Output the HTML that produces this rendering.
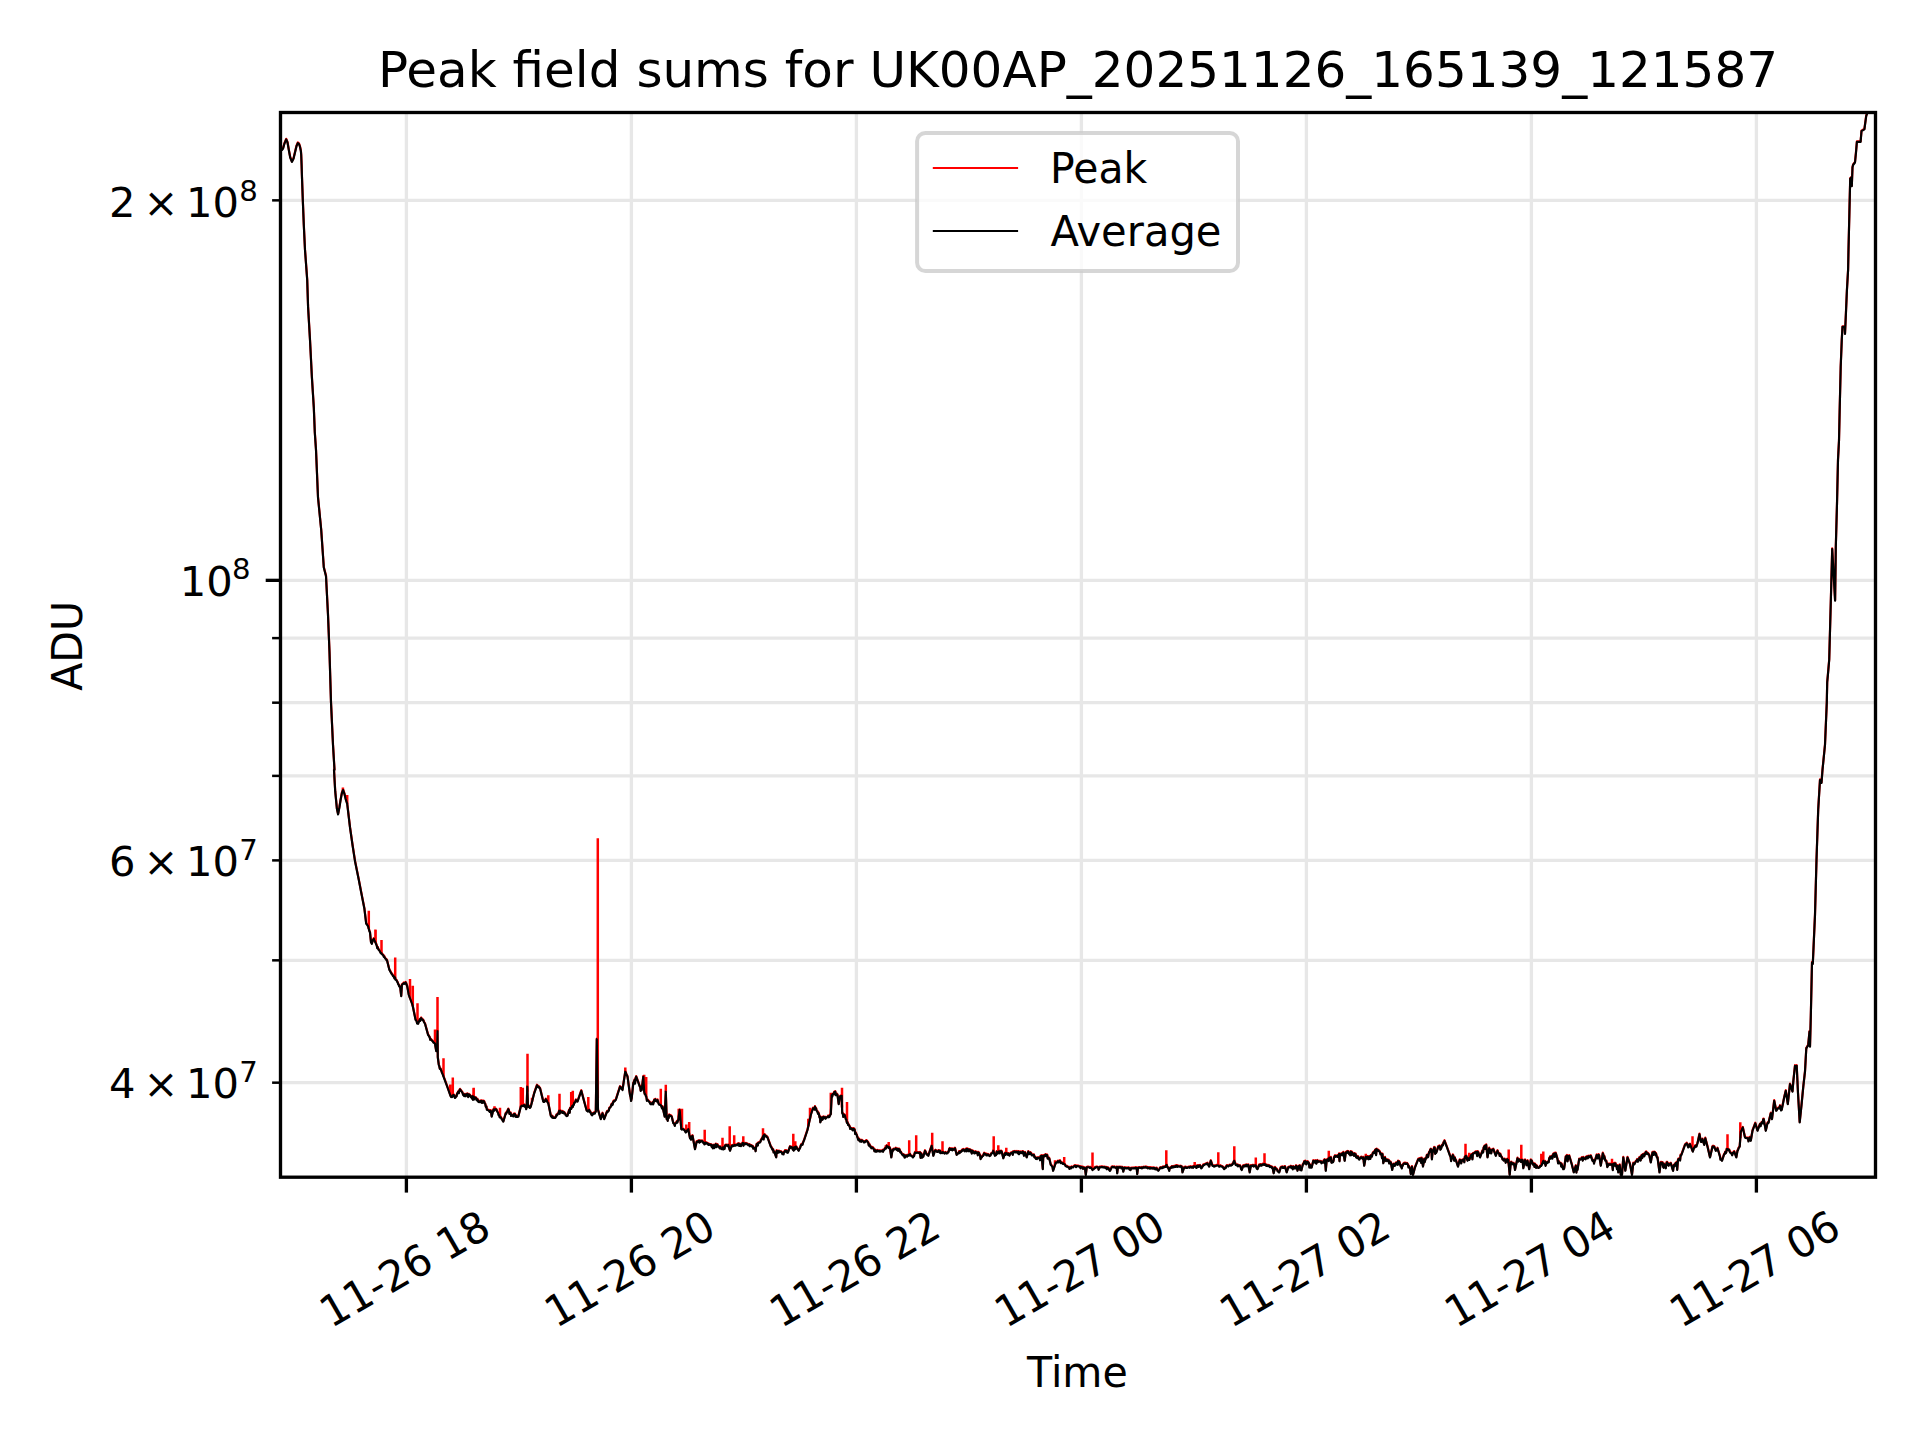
<!DOCTYPE html>
<html lang="en"><head><meta charset="utf-8"><title>Peak field sums for UK00AP_20251126_165139_121587</title>
<style>html,body{margin:0;padding:0;background:#fff}body{width:1920px;height:1440px;overflow:hidden}svg{display:block}text{font-family:"DejaVu Sans","Liberation Sans",sans-serif;fill:#000}</style>
</head><body>
<svg width="1920" height="1440" viewBox="0 0 1920 1440">
<rect width="1920" height="1440" fill="#fff"/>
<defs><clipPath id="ax"><rect x="280.5" y="112.5" width="1595.0" height="1064.7"/></clipPath></defs>
<g stroke="#e7e7e7" stroke-width="3.33" fill="none">
<path d="M406.40 112.5V1177.2"/>
<path d="M631.40 112.5V1177.2"/>
<path d="M856.40 112.5V1177.2"/>
<path d="M1081.40 112.5V1177.2"/>
<path d="M1306.40 112.5V1177.2"/>
<path d="M1531.40 112.5V1177.2"/>
<path d="M1756.40 112.5V1177.2"/>
<path d="M280.5 200.36H1875.5"/>
<path d="M280.5 580.35H1875.5"/>
<path d="M280.5 638.11H1875.5"/>
<path d="M280.5 702.68H1875.5"/>
<path d="M280.5 775.88H1875.5"/>
<path d="M280.5 860.39H1875.5"/>
<path d="M280.5 960.34H1875.5"/>
<path d="M280.5 1082.67H1875.5"/>
</g>
<g clip-path="url(#ax)" fill="none" stroke-linejoin="round" stroke-linecap="butt">
<path d="M280.6 150.6 L281.9 150 L283.1 148.5 L284.4 143.8 L286.2 139.4 L287.5 142.5 L288.8 150 L290.2 157.5 L291.9 161.9 L293.5 158.8 L295 152.5 L296.5 146.2 L297.8 143.1 L299 144 L300 146.9 L300.9 151.2 L301.2 155 L301.6 165 L301.9 175 L302.8 200 L303.8 225 L305 250 L307.2 280 L308.1 307.5 L310 340 L311.9 377.5 L313.8 407.5 L314.8 432.5 L316 450 L318 497.5 L321.2 530 L323.8 567.5 L326 576.2 L328 615 L329.5 652.5 L331 702.5 L333 745 L334.5 770 L334 770 L335.2 791.2 L336.9 808.8 L338.1 814.4 L339.4 807.5 L340.6 800 L341.9 793.1 L343.1 790 L344.4 793.8 L345.6 798.8 L347.2 803.8 L350 827.5 L352.5 845 L355 861.2 L358.8 880 L361.2 892.5 L364.4 908.8 L366.2 923.8 L366.9 924.4 L367.5 925.5 L368.1 926.2 L369.4 931.2 L370 932.5 L371 942.5 L371.9 943.8 L372.8 940 L373.2 940.6 L373.8 938.8 L374.2 940.5 L374.8 941 L375.2 941.9 L375.8 943.3 L376.2 944.4 L376.8 945.8 L377.2 948.1 L377.8 947.5 L378.2 948.9 L378.8 950 L379.3 950.5 L379.8 951.3 L380.3 952.2 L380.8 953.2 L381.3 953.1 L381.8 954.1 L382.3 954.6 L382.8 954.9 L383.3 955.3 L383.8 956.8 L384.3 956.6 L384.8 957.8 L385.4 958.8 L385.9 959 L386.4 960.1 L386.9 960 L389.4 970 L389.9 970.8 L390.4 971.8 L390.9 972.6 L391.5 973.7 L392 974.2 L392.5 975 L393 976.2 L393.5 975.9 L394 977.5 L394.5 978.4 L395 977.5 L395.5 979.8 L396.1 980 L396.6 980.6 L397.1 981.6 L397.7 982.6 L398.2 984.3 L398.8 985 L399.2 986.4 L399.8 986.6 L400.2 987.5 L401.2 996.2 L401.9 985 L402.5 984.4 L403.1 983.9 L403.8 983.1 L404.4 983.9 L405 983.6 L405.6 982.5 L406.2 983.5 L406.7 985.2 L407.2 986.2 L408.8 995 L412.5 1005 L415.6 1020 L416.1 1020.4 L416.6 1021.2 L417.1 1023.5 L417.6 1023.4 L418.1 1023.8 L419.8 1019.4 L420.2 1021 L420.8 1018.9 L421.2 1018.1 L421.9 1019.3 L422.5 1019.9 L423.1 1020 L423.8 1021.7 L424.4 1022.8 L425 1023.8 L428.1 1035 L428.6 1035.6 L429.2 1036.8 L429.7 1037.4 L430.2 1039.8 L430.7 1039.2 L431.2 1040 L431.8 1040.5 L432.3 1041 L432.9 1041.6 L433.4 1042.6 L433.9 1042.5 L434.5 1043.2 L435 1043.8 L436.2 1051.2 L437.2 1047.5 L437.5 1031.2 L437.8 1057.5 L438.8 1065 L439.3 1066.4 L439.8 1068.9 L440.4 1068.7 L440.9 1069.8 L441.4 1071 L442 1072.9 L442.5 1073.8 L447.5 1087.5 L450.6 1096.2 L451.1 1097 L451.7 1096.4 L452.2 1097 L452.7 1095.3 L453.2 1095.4 L453.8 1095 L454.4 1096.7 L455 1098 L455.6 1097.5 L456.1 1096 L456.6 1096.3 L457.1 1093.7 L457.6 1093.4 L458.1 1091.9 L458.8 1093.3 L459.4 1090.6 L460 1089.4 L460.6 1090.2 L461.2 1091.1 L461.9 1091.9 L462.5 1092.8 L463.1 1095.1 L463.8 1095 L464.2 1096.2 L464.8 1094.4 L465.2 1095.6 L465.8 1096.3 L466.2 1094.4 L466.8 1094.6 L467.2 1093.9 L467.8 1094.9 L468.2 1097.1 L468.8 1094.4 L469.3 1096 L469.8 1095 L470.4 1096.2 L470.9 1097.2 L471.4 1096.8 L472 1098.6 L472.5 1096.2 L473 1099.8 L473.5 1096.5 L474 1099.6 L474.5 1097.4 L475 1097.6 L475.5 1098.3 L476 1098 L476.5 1099.9 L477 1100.4 L477.5 1099.4 L478 1101.3 L478.5 1102 L479 1101.4 L479.5 1102 L480 1101.3 L480.5 1102.2 L481 1100.9 L481.6 1101 L482.1 1103 L482.6 1101.3 L483.1 1102.6 L483.6 1101.2 L484.2 1101.7 L484.7 1103.4 L485.3 1104.2 L485.8 1106.9 L486.4 1106.7 L486.9 1109.7 L487.5 1110 L488.1 1110.2 L488.6 1110.2 L489.2 1111.2 L489.7 1111.9 L490.3 1110.8 L490.8 1110.8 L491.7 1116.7 L493.3 1110 L493.8 1109.3 L494.3 1110.7 L494.8 1109.3 L495.3 1109.3 L495.8 1109.2 L496.4 1109.6 L496.9 1111 L497.5 1112.1 L498.1 1112.9 L498.6 1115.1 L499.2 1115 L499.7 1117.4 L500.2 1117.3 L500.7 1117.3 L501.2 1118.1 L501.8 1119.3 L502.3 1119.9 L502.8 1121 L503.3 1121.7 L505.8 1113.3 L506.3 1113.6 L506.8 1112.4 L507.3 1111.4 L507.8 1110.5 L508.3 1109.2 L508.9 1110.4 L509.4 1113.9 L510 1113.7 L510.6 1113 L511.1 1116 L511.7 1115 L512.2 1115.6 L512.8 1115.9 L513.3 1116.4 L513.9 1114.2 L514.4 1114 L515 1114.2 L515.6 1116.8 L516.1 1115.8 L516.7 1117 L517.2 1116.5 L517.8 1116.8 L518.3 1116.7 L520.8 1106.7 L521.4 1106.1 L521.9 1105.6 L522.5 1105.9 L523.1 1106.2 L523.6 1105.2 L524.2 1105 L524.7 1105.5 L525.2 1107.1 L525.7 1106.8 L526.2 1109.2 L526.7 1106.7 L527.3 1086.7 L528 1106.7 L528.6 1106.9 L529.1 1106.3 L529.7 1108 L530.3 1107.6 L530.8 1106.7 L534.2 1093.3 L537 1085.3 L537.5 1085.9 L538 1086.9 L538.5 1087.4 L539 1086.9 L539.5 1088.1 L540 1088.3 L543.3 1101.7 L543.8 1102 L544.3 1102 L544.8 1100.5 L545.3 1101.2 L545.8 1099.2 L546.3 1100.7 L546.8 1100.4 L547.3 1102 L547.8 1102.7 L548.3 1103.3 L550.8 1115.8 L551.4 1116.7 L551.9 1117.4 L552.4 1116.3 L552.9 1118 L553.4 1117.7 L554 1117.7 L554.5 1118 L555 1118 L555.5 1117.7 L556 1116.3 L556.6 1114.9 L557.1 1115.5 L557.6 1114.1 L558.1 1113.8 L558.6 1112.9 L559.2 1110.8 L559.7 1113.8 L560.2 1110.8 L560.7 1111.1 L561.2 1112.4 L561.7 1112.6 L562.2 1112.8 L562.7 1111.6 L563.2 1112.4 L563.7 1113.3 L564.2 1112.5 L564.7 1113.2 L565.3 1113.9 L565.8 1115.5 L566.4 1115.7 L566.9 1116.1 L567.5 1115.8 L569.2 1110 L569.7 1112.8 L570.2 1108.2 L570.7 1109.1 L571.2 1108.9 L571.8 1107.1 L572.3 1105.9 L572.8 1107.1 L573.3 1105 L573.8 1104.9 L574.3 1102.6 L574.8 1102.3 L575.3 1102.4 L575.8 1100 L576.4 1100.6 L576.9 1100.9 L577.5 1101.7 L581.3 1090.8 L584.2 1101.7 L586.7 1110.8 L587.2 1110.8 L587.7 1111.5 L588.2 1110.7 L588.7 1111.3 L589.2 1110 L589.7 1111.9 L590.2 1111.6 L590.7 1113.1 L591.2 1114 L591.7 1115 L592.2 1115.4 L592.7 1113.7 L593.2 1114.1 L593.8 1113.1 L594.3 1112.8 L594.8 1113.6 L595.3 1112.2 L595.8 1111.7 L596.8 1039.2 L598 1110 L600.8 1119.2 L602.5 1113.3 L604.2 1119.2 L606.7 1112.5 L607.2 1111.4 L607.7 1112 L608.2 1111 L608.8 1110.9 L609.3 1108.3 L609.8 1107.8 L610.3 1107.5 L610.8 1106.7 L611.3 1105.1 L611.8 1104.1 L612.3 1105.2 L612.8 1104.1 L613.3 1101.7 L613.8 1101.1 L614.3 1101.6 L614.8 1101.1 L615.3 1100.4 L615.8 1100 L620 1086.7 L620.5 1087.3 L621 1087.6 L621.5 1089 L622 1089.1 L622.5 1090 L625.3 1071.7 L625.9 1072.8 L626.4 1074.7 L627 1075.5 L627.5 1076.7 L630 1095 L630.6 1097.2 L631.1 1101 L631.7 1098.3 L633.3 1083.3 L633.9 1082 L634.5 1080.1 L635 1083.6 L635.6 1078.4 L636.2 1076.7 L639.2 1085 L639.7 1086.5 L640.2 1086.7 L640.7 1091 L641.2 1088.9 L641.7 1090 L643.3 1076.7 L644.2 1091.7 L644.7 1094 L645.3 1094.3 L645.8 1096 L646.4 1097.2 L646.9 1100.8 L647.5 1100 L648 1100.5 L648.5 1101.1 L649.1 1101.8 L649.6 1102 L650.1 1103.7 L650.6 1103.9 L651.1 1104.3 L651.7 1104.2 L652.2 1102.9 L652.7 1102.5 L653.2 1104.4 L653.7 1102 L654.2 1100 L654.7 1101.3 L655.3 1099.4 L655.8 1100.7 L656.4 1101.1 L656.9 1101.6 L657.5 1100 L658 1101.6 L658.5 1103.6 L659 1104.6 L659.5 1104.5 L660 1105 L660.5 1104.8 L661 1105.7 L661.5 1106.7 L662 1108.6 L662.5 1106.7 L664.7 1116.7 L665.8 1091.7 L666.7 1119.2 L667.2 1117.9 L667.7 1120.9 L668.2 1116.4 L668.7 1118.2 L669.2 1115 L669.7 1115.4 L670.2 1115.8 L670.7 1115.8 L671.2 1116.1 L671.7 1116.7 L673.3 1123.3 L673.8 1123.5 L674.3 1124.3 L674.8 1125.9 L675.3 1123.6 L675.8 1123.3 L676.3 1123 L676.8 1121.6 L677.3 1122.7 L677.8 1121.2 L678.3 1120 L679.7 1110 L681.3 1129.2 L681.9 1129.6 L682.5 1129.4 L683 1129.1 L683.6 1129.6 L684.2 1130 L684.7 1130.6 L685.3 1131.9 L685.8 1132.5 L686.3 1132.1 L686.8 1130.6 L687.3 1130.3 L687.8 1130.1 L688.3 1129.2 L690 1138.3 L690.5 1138.1 L691 1139.8 L691.5 1136.5 L692 1137.1 L692.5 1135.8 L695 1149.2 L696.7 1141.7 L697.2 1141.7 L697.8 1141.8 L698.3 1140.9 L698.9 1140.9 L699.4 1142.6 L700 1140.8 L700.5 1142 L701 1141.6 L701.5 1141.2 L702 1140.9 L702.5 1141.4 L703 1142.1 L703.5 1143.2 L704 1143.5 L704.5 1144.4 L705 1142.5 L705.5 1142.5 L706 1143.6 L706.5 1143 L707 1143.1 L707.5 1143.9 L708 1143.8 L708.5 1145 L709 1144.2 L709.5 1144.5 L710 1145 L710.6 1144.6 L711.1 1144.8 L711.7 1147 L712.2 1145.4 L712.8 1148.3 L713.3 1145.8 L713.8 1145.2 L714.3 1148.1 L714.8 1145.8 L715.3 1145.6 L715.8 1144.2 L716.4 1147.2 L716.9 1144.9 L717.5 1144.8 L718.1 1146.6 L718.6 1146.6 L719.2 1146.7 L719.7 1148.5 L720.3 1146.9 L720.8 1148.7 L721.4 1148.7 L721.9 1149.2 L722.5 1148.3 L723 1147.3 L723.5 1149.5 L724 1147.9 L724.5 1149 L725 1145.8 L725.6 1145.2 L726.1 1145.5 L726.7 1145.2 L727.2 1146.1 L727.8 1146 L728.3 1145 L730 1150.8 L731.7 1145.8 L732.2 1146.5 L732.7 1145.4 L733.2 1145.6 L733.7 1146.1 L734.2 1145.3 L734.7 1144.8 L735.2 1145.6 L735.7 1145.6 L736.2 1145 L736.7 1145 L737.2 1145.2 L737.7 1144.1 L738.3 1144.5 L738.8 1143.7 L739.3 1146 L739.8 1145.8 L740.4 1144.4 L740.9 1146.2 L741.4 1144.6 L742 1144.5 L742.5 1143 L743 1143.1 L743.5 1145.8 L744.1 1143.5 L744.6 1143.6 L745.1 1143.4 L745.6 1144.2 L746.1 1143.5 L746.7 1144.2 L747.2 1143.9 L747.7 1144.4 L748.2 1145.1 L748.7 1144.7 L749.2 1144.6 L749.7 1146.3 L750.2 1145.3 L750.7 1145.4 L751.2 1146.3 L751.7 1145.8 L752.2 1146.7 L752.8 1146.4 L753.3 1148.7 L753.9 1148.2 L754.4 1148 L755 1148.3 L755.6 1151.3 L756.1 1147.1 L756.7 1144.2 L757.2 1144.4 L757.8 1145.6 L758.3 1142.9 L758.9 1142.9 L759.4 1142.5 L760 1142.5 L760.5 1141.7 L761 1140 L761.6 1139.5 L762.1 1138.3 L762.6 1137.9 L763.1 1136.2 L763.6 1139.5 L764.2 1134.7 L764.7 1134.8 L765.3 1136.5 L765.8 1136.5 L766.4 1136.2 L766.9 1137.3 L767.5 1137.5 L770.8 1146.7 L771.4 1147.3 L771.9 1148.5 L772.5 1149.9 L773.1 1149.6 L773.6 1152.5 L774.2 1151.7 L776.2 1157.5 L776.7 1150.8 L777.2 1153.1 L777.7 1152.9 L778.2 1151.1 L778.8 1152.4 L779.3 1151.3 L779.8 1152.1 L780.3 1151.7 L780.8 1151.7 L781.4 1152.2 L781.9 1152.9 L782.5 1154.2 L783 1153.1 L783.5 1154.4 L784 1152.2 L784.5 1152.2 L785 1150.8 L785.6 1150.9 L786.1 1150.8 L786.7 1152.5 L787.2 1151.3 L787.8 1152.8 L788.3 1151.7 L790 1146.7 L790.6 1147.9 L791.1 1147.3 L791.7 1147.1 L792.2 1147.5 L792.8 1149.8 L793.3 1148.3 L793.8 1150.7 L794.3 1147.2 L794.8 1147.5 L795.3 1149.3 L795.8 1146.7 L796.4 1146.9 L797 1148.5 L797.5 1148.9 L798.1 1150.1 L798.7 1150.8 L799.2 1149.3 L799.8 1148.7 L800.3 1147.3 L800.8 1145.8 L801.4 1144.5 L801.9 1144.5 L802.5 1144.8 L803.1 1142.6 L803.6 1141.4 L804.2 1140 L807.5 1130 L810.8 1115 L813 1108.3 L813.5 1108.5 L814 1108.1 L814.5 1109.7 L815 1106.7 L815.5 1109.6 L816 1108.4 L816.5 1110.1 L817 1111.5 L817.5 1111.7 L818 1113.8 L818.5 1113.1 L819 1114.5 L819.5 1117.5 L820 1116.7 L820.3 1122.5 L822 1117.5 L822.5 1119.8 L823 1117.4 L823.6 1117 L824.1 1118.3 L824.6 1117.6 L825.1 1117.2 L825.6 1118.8 L826.1 1117.9 L826.7 1117.5 L827.2 1117.3 L827.7 1116.8 L828.2 1116.1 L828.8 1117.3 L829.3 1117.1 L829.8 1115.9 L830.3 1115 L830.8 1114.2 L831.7 1095 L832.2 1096.9 L832.7 1094.1 L833.2 1094.1 L833.8 1094 L834.3 1092.1 L834.8 1094.3 L835.3 1091.7 L835.9 1095.2 L836.4 1095.1 L837 1094.3 L837.5 1095 L838.7 1104.2 L840 1096.7 L840.6 1096.1 L841.1 1097.4 L841.7 1095.8 L842.2 1113.3 L842.7 1113.3 L843.3 1117 L843.9 1115.3 L844.4 1114.8 L845 1115.8 L845.8 1119.2 L846.4 1119.8 L846.9 1122.9 L847.5 1122.4 L848.1 1124.9 L848.6 1124.7 L849.2 1125.8 L849.7 1126.8 L850.2 1128.9 L850.7 1128.6 L851.2 1128.4 L851.7 1129.2 L852.2 1128.8 L852.7 1130.4 L853.2 1128.7 L853.7 1128.7 L854.2 1129.2 L854.7 1129.9 L855.2 1134 L855.7 1132.9 L856.2 1134 L856.7 1135 L857.2 1136.8 L857.7 1137.9 L858.2 1139.9 L858.7 1138.9 L859.2 1140 L859.7 1141.5 L860.2 1140.6 L860.7 1140.3 L861.2 1141.8 L861.7 1140.4 L862.2 1140.7 L862.7 1141.1 L863.2 1141.3 L863.7 1142.3 L864.2 1141.7 L864.7 1142.4 L865.2 1141.8 L865.7 1141.2 L866.2 1140.8 L866.7 1140.8 L867.2 1141.3 L867.7 1142.3 L868.2 1142.6 L868.8 1145.6 L869.3 1144.4 L869.8 1145.5 L870.3 1147 L870.8 1146.7 L871.4 1148.3 L871.9 1148.2 L872.4 1147.6 L872.9 1147.9 L873.4 1148.4 L874 1149.8 L874.5 1151.5 L875 1150 L875.5 1151 L876 1151.8 L876.5 1150.8 L877 1151 L877.5 1150.5 L878 1151.4 L878.5 1151.3 L879 1150.9 L879.5 1150.9 L880 1151.7 L880.5 1151.1 L881 1151.5 L881.6 1151 L882.1 1151.1 L882.6 1150.5 L883.1 1151.8 L883.6 1150 L884.2 1150 L884.7 1149 L885.2 1148.2 L885.7 1148.7 L886.2 1148.2 L886.7 1145.8 L887.2 1147.3 L887.8 1147 L888.3 1146.6 L888.9 1148.2 L889.4 1147.3 L890 1148.3 L891.3 1157.5 L892.5 1150 L893.1 1150.7 L893.6 1149.2 L894.2 1149.3 L894.7 1149.3 L895.3 1149.1 L895.8 1148.3 L896.4 1149.5 L896.9 1150.1 L897.5 1149 L898.1 1150.9 L898.6 1149.1 L899.2 1149.2 L899.7 1150.2 L900.3 1152.4 L900.8 1152 L901.4 1153.3 L901.9 1154.1 L902.5 1155 L903 1155.5 L903.5 1154.7 L904.1 1155.3 L904.6 1157.6 L905.1 1157.4 L905.6 1155.8 L906.1 1155.5 L906.7 1155.8 L907.2 1156.6 L907.8 1155.9 L908.3 1154.9 L908.9 1155.6 L909.4 1155 L910 1154.2 L910.5 1155.5 L911 1155.8 L911.5 1156 L912 1156.6 L912.5 1156.8 L913 1157.5 L913.5 1156 L914 1156.4 L914.5 1154.1 L915 1152.5 L915.5 1153 L916 1153 L916.5 1152.7 L917 1152.6 L917.5 1152.6 L918 1152.9 L918.5 1152.8 L919 1152.7 L919.5 1153.6 L920 1152.5 L920.6 1157.9 L921.1 1153.5 L921.7 1154.6 L922.2 1157.7 L922.8 1156.8 L923.3 1156.7 L925 1150.8 L925.6 1151.8 L926.1 1153.5 L926.7 1154.6 L927.2 1154.4 L927.8 1154.7 L928.3 1155.8 L931.7 1145.8 L933.3 1155.8 L935 1150.8 L935.5 1150.3 L936 1150.9 L936.6 1151.2 L937.1 1152 L937.6 1152 L938.1 1151.2 L938.6 1150.6 L939.2 1150.8 L939.7 1152.6 L940.2 1151.1 L940.7 1153.2 L941.2 1152.6 L941.8 1152.9 L942.3 1153.1 L942.8 1152 L943.3 1152.5 L943.9 1153.1 L944.4 1153.6 L944.9 1153.3 L945.4 1152.5 L945.9 1153 L946.5 1153.6 L947 1153.4 L947.5 1153.3 L948.1 1152.1 L948.6 1152 L949.2 1149.2 L949.7 1148.5 L950.2 1148.9 L950.8 1149.8 L951.3 1148.9 L951.8 1149.2 L952.3 1150.4 L952.9 1148.9 L953.4 1149.5 L953.9 1149.8 L954.5 1149.6 L955 1148.3 L956.7 1155 L957.2 1154.3 L957.7 1153.7 L958.2 1153.2 L958.7 1153.4 L959.2 1151.7 L959.7 1153.1 L960.2 1151.9 L960.7 1151.4 L961.2 1151.8 L961.8 1151.1 L962.3 1150 L962.8 1150.7 L963.3 1149.5 L963.8 1150.1 L964.3 1150 L964.8 1151.4 L965.3 1150.1 L965.8 1150.4 L966.3 1149 L966.8 1151.4 L967.3 1149 L967.8 1150.2 L968.3 1149.5 L968.8 1151.3 L969.3 1149.8 L969.8 1149.7 L970.3 1151.5 L970.8 1150.3 L971.3 1152 L971.8 1153.6 L972.3 1150.9 L972.8 1151.1 L973.3 1151.7 L973.8 1152.5 L974.3 1153.4 L974.8 1153.5 L975.3 1151.8 L975.8 1153 L976.3 1152.4 L976.8 1152.3 L977.3 1152.9 L977.8 1155.4 L978.3 1152.5 L978.9 1152.9 L979.4 1154.1 L980 1155.4 L980.6 1159.1 L981.1 1157.8 L981.7 1157.5 L982.2 1156.5 L982.7 1156 L983.2 1156 L983.7 1154.4 L984.2 1153.3 L984.7 1154.5 L985.2 1154.2 L985.8 1154 L986.3 1155.3 L986.8 1154.6 L987.3 1155.4 L987.9 1154.5 L988.4 1154.9 L988.9 1155.5 L989.5 1156.1 L990 1155.8 L990.6 1155.3 L991.1 1154 L991.7 1153.3 L992.2 1153.2 L992.8 1153.1 L993.3 1150.8 L995 1155.8 L995.6 1154.4 L996.1 1155.1 L996.7 1151.7 L997.2 1153.7 L997.7 1153.6 L998.2 1152.8 L998.7 1151.6 L999.2 1151.4 L999.7 1153.4 L1000.2 1151.3 L1000.7 1151.6 L1001.2 1151.2 L1001.7 1151.7 L1003.3 1158.3 L1005 1153.3 L1005.5 1154.9 L1006 1153.1 L1006.5 1153.2 L1007 1153.5 L1007.5 1154.5 L1008 1154.9 L1008.5 1153.7 L1009 1154.8 L1009.5 1155.6 L1010 1154.2 L1010.6 1153.6 L1011.1 1153 L1011.7 1152.8 L1012.2 1153.2 L1012.8 1154.9 L1013.3 1151.7 L1013.8 1152.4 L1014.4 1151.8 L1014.9 1151.5 L1015.4 1152.4 L1015.9 1152.3 L1016.4 1151.9 L1016.9 1151.6 L1017.4 1152.9 L1017.9 1153.3 L1018.5 1151.7 L1019 1154.2 L1019.5 1153.6 L1020 1152 L1020.5 1152 L1021 1152.8 L1021.5 1152.3 L1022 1153.2 L1022.5 1151.7 L1023 1151.8 L1023.5 1153.8 L1024 1155.8 L1024.5 1152.9 L1025 1152.5 L1026.7 1157.5 L1028.3 1151.7 L1028.8 1153.8 L1029.3 1153.1 L1029.8 1154 L1030.3 1152.7 L1030.8 1153.2 L1031.3 1153.7 L1031.8 1155.5 L1032.3 1155.3 L1032.8 1155.3 L1033.3 1155 L1033.9 1154.9 L1034.4 1157.4 L1034.9 1157.7 L1035.4 1157.3 L1035.9 1158.9 L1036.5 1158.2 L1037 1159 L1037.5 1158.3 L1038 1157.7 L1038.5 1158 L1039.1 1158.6 L1039.6 1157.8 L1040.1 1160.3 L1040.6 1156.3 L1041.1 1156 L1041.7 1155.8 L1042.8 1169.2 L1043.3 1155.8 L1043.9 1156.1 L1044.4 1156.4 L1045 1155.2 L1045.6 1154.7 L1046.1 1156.2 L1046.7 1155 L1047.2 1155.2 L1047.7 1158.6 L1048.2 1157.8 L1048.7 1158.7 L1049.2 1158.3 L1050.8 1165 L1051.4 1165.5 L1052 1166.4 L1052.5 1167.1 L1053.1 1170.8 L1053.7 1169.2 L1055.8 1162.5 L1056.4 1162.5 L1056.9 1162.6 L1057.4 1162 L1057.9 1161.2 L1058.4 1162.5 L1059 1161.3 L1059.5 1161.6 L1060 1160.8 L1060.6 1163.1 L1061.1 1162.3 L1061.7 1162.7 L1062.2 1163.4 L1062.8 1163.8 L1063.3 1163.3 L1063.9 1163.9 L1064.4 1164.4 L1065 1164.7 L1065.6 1166.2 L1066.1 1166.2 L1066.7 1166.7 L1067.2 1166.5 L1067.8 1167 L1068.3 1167.3 L1068.9 1167.5 L1069.4 1169 L1070 1167.5 L1070.5 1167.8 L1071 1168.4 L1071.5 1167 L1072 1167.5 L1072.5 1167.4 L1073 1167.5 L1073.5 1166.9 L1074 1166.5 L1074.5 1165.9 L1075 1165.8 L1075.5 1165.9 L1076 1167.2 L1076.5 1166.1 L1077 1166 L1077.5 1166.3 L1078 1166.2 L1078.5 1166.3 L1079 1166.6 L1079.5 1166.6 L1080 1166.7 L1080.5 1168.3 L1081 1166.9 L1081.5 1167.3 L1082 1167 L1082.5 1167.7 L1083 1168.9 L1083.5 1167.5 L1084 1167.9 L1084.5 1168 L1085 1168.3 L1085.8 1175 L1086.7 1167.5 L1087.2 1167.3 L1087.7 1167.2 L1088.2 1167.2 L1088.8 1167.2 L1089.3 1167.5 L1089.8 1167.9 L1090.3 1167.5 L1090.8 1167.5 L1091.4 1168.2 L1091.9 1169 L1092.5 1170 L1093 1169.6 L1093.5 1169.3 L1094 1168.7 L1094.5 1168.5 L1095 1167.5 L1095.5 1167.9 L1096 1167.2 L1096.5 1167.4 L1097.1 1167.1 L1097.6 1167.3 L1098.1 1167.8 L1098.6 1169.8 L1099.1 1168.4 L1099.6 1167.2 L1100.1 1167.3 L1100.6 1167.5 L1101.2 1166.9 L1101.7 1167.2 L1102.2 1167 L1102.7 1167.3 L1103.2 1167.1 L1103.7 1167.5 L1104.2 1167.6 L1104.7 1167.2 L1105.3 1167.5 L1105.8 1168.2 L1106.3 1167.5 L1106.8 1169.3 L1107.3 1167.8 L1107.8 1168 L1108.3 1168 L1109 1169.6 L1109.7 1170.8 L1110.2 1170.8 L1110.7 1169.1 L1111.2 1168.8 L1111.7 1167.2 L1112.2 1167 L1112.7 1166.9 L1113.2 1167.1 L1113.7 1167.4 L1114.2 1166.9 L1114.7 1167.5 L1115.2 1167.6 L1115.7 1167.9 L1116.2 1167.4 L1116.7 1167.2 L1117.2 1173.3 L1118 1167.2 L1118.5 1167.5 L1119 1167.2 L1119.5 1167.7 L1120 1167.1 L1120.5 1167.3 L1121 1167.5 L1121.5 1168.4 L1122 1167.3 L1122.5 1167.5 L1123.3 1171.7 L1124.2 1168 L1124.7 1167.8 L1125.2 1167.9 L1125.8 1168.3 L1126.3 1168 L1126.8 1168.4 L1127.3 1168.5 L1127.9 1168 L1128.4 1167.9 L1128.9 1168.2 L1129.5 1169.6 L1130 1168.3 L1130.5 1170.2 L1131 1168.9 L1131.5 1168.2 L1132.1 1168.4 L1132.6 1168.3 L1133.1 1168.2 L1133.6 1168.4 L1134.1 1168 L1134.6 1168.5 L1135.1 1168.4 L1135.6 1167.8 L1136.2 1168.5 L1136.7 1168 L1137.2 1174.2 L1138 1168 L1138.5 1167.9 L1139 1167.8 L1139.5 1167.6 L1140 1168 L1140.5 1167.9 L1141 1168.1 L1141.5 1167.6 L1142 1168.3 L1142.5 1167.7 L1143 1167.6 L1143.5 1167.2 L1144 1167.8 L1144.5 1167.6 L1145 1167.2 L1145.5 1167 L1146 1167.7 L1146.5 1167.3 L1147.1 1167.4 L1147.6 1168.3 L1148.1 1167.8 L1148.6 1167.8 L1149.1 1168.4 L1149.6 1167.8 L1150.1 1168.6 L1150.6 1167.8 L1151.2 1168.3 L1151.7 1168 L1152.2 1168.6 L1152.7 1168.1 L1153.2 1168.5 L1153.7 1167.9 L1154.2 1168.6 L1154.7 1168.2 L1155.2 1169.4 L1155.7 1168.7 L1156.2 1168.4 L1156.7 1168.3 L1157.2 1169.9 L1157.8 1170.3 L1158.3 1170.8 L1158.9 1170.1 L1159.4 1169.2 L1160 1168 L1160.5 1167.7 L1161 1168.1 L1161.5 1167.8 L1162 1168.3 L1162.5 1167.4 L1163 1167 L1163.5 1167.6 L1164 1167 L1164.5 1167.1 L1165 1166.7 L1165.6 1167 L1166.1 1165.4 L1166.7 1165 L1167.2 1166.5 L1167.7 1167.5 L1168.2 1168.1 L1168.7 1169.2 L1169.2 1170.9 L1169.7 1168.6 L1170.2 1167.9 L1170.7 1167.8 L1171.2 1167.8 L1171.7 1166.7 L1172.2 1167.6 L1172.7 1166.7 L1173.2 1166.5 L1173.7 1167.3 L1174.2 1166.6 L1174.7 1166.8 L1175.2 1166.1 L1175.7 1166.9 L1176.2 1165.8 L1176.7 1165.8 L1177.2 1166.9 L1177.7 1165.9 L1178.2 1166.6 L1178.7 1166.5 L1179.2 1166.5 L1179.7 1166.5 L1180.2 1166.9 L1180.7 1166.2 L1181.2 1166.9 L1181.7 1166.7 L1182.5 1172.5 L1184.2 1167.5 L1184.7 1167.8 L1185.2 1167.3 L1185.8 1167.2 L1186.3 1168 L1186.8 1168 L1187.3 1167.9 L1187.9 1167.5 L1188.4 1167.5 L1188.9 1167.1 L1189.5 1167.8 L1190 1167.2 L1190.5 1166.8 L1191 1167.3 L1191.5 1167.6 L1192 1166.9 L1192.5 1167.2 L1193 1167.8 L1193.5 1166.5 L1194 1166.3 L1194.5 1166.7 L1195 1166.3 L1195.5 1167.2 L1196 1166.7 L1196.5 1168 L1197 1165.9 L1197.5 1166.3 L1198 1165.7 L1198.5 1167 L1199 1165.8 L1199.5 1166.3 L1200 1165.5 L1200.7 1167.4 L1201.3 1168.3 L1201.8 1168 L1202.3 1166.6 L1202.8 1166.4 L1203.3 1165 L1203.9 1165.2 L1204.4 1164.8 L1204.9 1164.6 L1205.4 1164.2 L1205.9 1164.2 L1206.5 1163.7 L1207 1164.1 L1207.5 1163.3 L1208.1 1164.7 L1208.6 1165.7 L1209.2 1166.7 L1210.8 1160.8 L1212.5 1165.8 L1213 1165.8 L1213.6 1166 L1214.1 1166.7 L1214.6 1165.9 L1215.2 1166 L1215.7 1166.2 L1216.2 1165.5 L1216.7 1165.6 L1217.3 1165.4 L1217.8 1165.6 L1218.3 1165.5 L1218.9 1166.6 L1219.4 1166.7 L1219.9 1166.1 L1220.4 1165.8 L1220.9 1166.1 L1221.5 1166.6 L1222 1166.6 L1222.5 1166.7 L1223.1 1167.6 L1223.6 1168.3 L1224.2 1169.2 L1224.7 1168.4 L1225.2 1167.7 L1225.7 1168 L1226.2 1166.7 L1226.7 1165.8 L1227.2 1165.7 L1227.7 1166 L1228.2 1166.5 L1228.7 1165.9 L1229.2 1165.7 L1229.7 1165.1 L1230.2 1165.2 L1230.7 1165.6 L1231.2 1165.6 L1231.7 1165 L1232.2 1164.9 L1232.7 1163.7 L1233.2 1163.8 L1233.7 1161.8 L1234.2 1160.8 L1235.8 1165 L1236.4 1165.2 L1236.9 1165.5 L1237.4 1165 L1237.9 1166.5 L1238.4 1165.4 L1239 1165.6 L1239.5 1165.7 L1240 1165.8 L1240.6 1167.1 L1241.1 1169.1 L1241.7 1170 L1243.3 1165.8 L1243.8 1166.1 L1244.3 1165.9 L1244.8 1166.5 L1245.3 1165.2 L1245.8 1165.8 L1246.3 1166.3 L1246.8 1164.9 L1247.3 1166.2 L1247.8 1165.6 L1248.3 1165 L1249.7 1172.5 L1250.8 1165.8 L1251.3 1166.4 L1251.8 1166.2 L1252.3 1165.4 L1252.8 1165.7 L1253.3 1165.4 L1253.8 1166.6 L1254.3 1166 L1254.8 1165.5 L1255.3 1165.3 L1255.8 1165.5 L1256.4 1167.7 L1256.9 1168.7 L1257.5 1169.2 L1258.1 1167.8 L1258.6 1166.4 L1259.2 1165 L1259.7 1166 L1260.2 1164.7 L1260.7 1164.9 L1261.2 1164.9 L1261.7 1165.6 L1262.2 1164.6 L1262.7 1164.3 L1263.2 1164.3 L1263.7 1164.9 L1264.2 1164.2 L1264.7 1164.8 L1265.2 1164.3 L1265.7 1164.8 L1266.2 1165.9 L1266.8 1165.3 L1267.3 1166 L1267.8 1165.5 L1268.3 1165.5 L1268.9 1166.3 L1269.4 1165.8 L1269.9 1167.2 L1270.4 1166.5 L1270.9 1166.8 L1271.5 1167 L1272 1168 L1272.5 1167.5 L1273.7 1173.3 L1275 1167.5 L1275.5 1168.2 L1276 1169.1 L1276.6 1169.2 L1277.1 1169.7 L1277.6 1171.3 L1278.1 1171.5 L1278.6 1172.2 L1279.2 1172.5 L1280.8 1167.5 L1281.4 1167.6 L1281.9 1167.1 L1282.4 1166.9 L1282.9 1167.9 L1283.4 1167.8 L1284 1167.9 L1284.5 1166.8 L1285 1166.7 L1286.7 1172.5 L1288.3 1167.5 L1288.8 1167.2 L1289.3 1167.4 L1289.8 1167.3 L1290.3 1166.8 L1290.8 1166.3 L1291.3 1167.9 L1291.8 1166.8 L1292.3 1167.7 L1292.8 1169.4 L1293.3 1166.7 L1293.9 1167.1 L1294.4 1167.1 L1295 1168.6 L1295.6 1168.1 L1296.1 1165.8 L1296.7 1166.7 L1297.5 1170.8 L1298.7 1166.3 L1299.2 1166.1 L1299.8 1165.7 L1300.3 1170.2 L1300.9 1169.2 L1301.4 1170.4 L1302 1168 L1302.5 1165.8 L1303.1 1164 L1303.6 1164.2 L1304.2 1161.7 L1304.7 1163 L1305.2 1161.2 L1305.7 1163 L1306.2 1164.4 L1306.8 1161.9 L1307.3 1163.5 L1307.8 1161.8 L1308.3 1162.5 L1308.9 1163.2 L1309.4 1167.6 L1310 1164.9 L1310.6 1167.6 L1311.1 1166.4 L1311.7 1167.5 L1313.3 1160.8 L1313.8 1161.2 L1314.3 1162.5 L1314.8 1162.3 L1315.3 1160.8 L1315.8 1163.4 L1316.3 1163.7 L1316.8 1161.1 L1317.3 1160.6 L1317.8 1162.2 L1318.3 1161.3 L1318.9 1161.6 L1319.4 1161.5 L1319.9 1161.5 L1320.4 1161.9 L1320.9 1161.5 L1321.5 1163.3 L1322 1162.8 L1322.5 1162.5 L1323 1162.5 L1323.5 1161.1 L1324 1162.8 L1324.5 1159.8 L1325 1160 L1325.8 1170.8 L1326.7 1160 L1327.2 1160.7 L1327.7 1159.4 L1328.2 1158.9 L1328.8 1161.1 L1329.3 1157.7 L1329.8 1158.1 L1330.3 1159.3 L1330.8 1157.5 L1331.4 1162.5 L1331.9 1162.8 L1332.5 1161.7 L1333 1162.2 L1333.5 1161.1 L1334 1157.5 L1334.5 1156.7 L1335 1155.8 L1335.5 1156.8 L1336 1156.4 L1336.5 1156.3 L1337 1155.9 L1337.5 1157 L1338 1155.5 L1338.5 1157.2 L1339 1154 L1339.5 1161.3 L1340 1154.2 L1340.6 1155 L1341.1 1154.2 L1341.7 1155.1 L1342.2 1153.5 L1342.8 1155.5 L1343.3 1152.5 L1344.7 1160.8 L1345.8 1152.5 L1346.3 1152.8 L1346.8 1152.4 L1347.3 1151.5 L1347.8 1152.8 L1348.3 1151.7 L1348.8 1153.6 L1349.3 1154.2 L1349.8 1154.4 L1350.3 1155.4 L1350.8 1151.7 L1351.4 1155.1 L1351.9 1152.3 L1352.4 1153 L1352.9 1154.8 L1353.4 1154.4 L1354 1155.9 L1354.5 1153.6 L1355 1154.2 L1355.6 1154.3 L1356.1 1157.3 L1356.7 1156.6 L1357.2 1158.1 L1357.8 1156.6 L1358.3 1157.5 L1358.9 1159.5 L1359.4 1159.6 L1360 1158.3 L1360.6 1157.9 L1361.1 1157.2 L1361.7 1157.2 L1362.2 1158.5 L1362.8 1159 L1363.3 1157.5 L1364.2 1165.8 L1365.8 1156.7 L1366.4 1156.9 L1366.9 1158.6 L1367.5 1156.7 L1368.1 1156.8 L1368.6 1159.3 L1369.2 1157.5 L1369.7 1156.7 L1370.3 1159 L1370.8 1155.6 L1371.4 1155.9 L1371.9 1156.7 L1372.5 1154.2 L1373 1152.8 L1373.5 1152.6 L1374.1 1151.8 L1374.6 1153.1 L1375.1 1150.3 L1375.6 1149.7 L1376.1 1155.1 L1376.7 1149.2 L1377.2 1150.9 L1377.8 1150 L1378.3 1150.3 L1378.9 1151.1 L1379.4 1151.4 L1380 1152.5 L1380.5 1154.4 L1381 1154.6 L1381.5 1153.9 L1382 1158.1 L1382.5 1154.2 L1383.3 1163.3 L1385 1157.5 L1385.5 1160 L1386 1161.2 L1386.5 1159.9 L1387 1159.9 L1387.5 1160 L1388.1 1161.3 L1388.6 1160.3 L1389.2 1163.5 L1389.7 1161.6 L1390.3 1163.8 L1390.8 1162.5 L1392.2 1170 L1393.3 1164.2 L1393.9 1164.1 L1394.4 1165.9 L1394.9 1165.8 L1395.5 1164.1 L1396 1163 L1396.5 1162.9 L1397 1164.6 L1397.6 1164.9 L1398.1 1161.2 L1398.6 1163.9 L1399.2 1161.7 L1400.8 1166.7 L1401.3 1165.6 L1401.8 1168.5 L1402.3 1165.4 L1402.8 1165.8 L1403.3 1164.2 L1403.9 1163.6 L1404.4 1163.3 L1404.9 1163.9 L1405.4 1163.3 L1405.9 1163.7 L1406.5 1164 L1407 1163.4 L1407.5 1164.2 L1408 1165 L1408.5 1167.5 L1409 1166.4 L1409.5 1168 L1410 1168.3 L1410.8 1174.2 L1412 1166.7 L1413 1175 L1415 1167.5 L1418.3 1159.2 L1418.9 1159.2 L1419.4 1158.8 L1420 1161.1 L1420.6 1158.5 L1421.1 1163 L1421.7 1158.3 L1423 1166.7 L1424.2 1159.2 L1424.7 1162.3 L1425.3 1160 L1425.8 1158.1 L1426.4 1158.3 L1426.9 1155.3 L1427.5 1155 L1428.1 1157.1 L1428.6 1154.3 L1429.2 1152.1 L1429.7 1152 L1430.3 1149.9 L1430.8 1149.2 L1431.4 1150 L1431.9 1159.4 L1432.5 1153.3 L1434.2 1147.5 L1434.7 1147.7 L1435.2 1153.9 L1435.7 1151.1 L1436.2 1152.9 L1436.7 1151.7 L1438.3 1146.7 L1438.9 1146.4 L1439.4 1146.1 L1439.9 1146.7 L1440.4 1149.8 L1440.9 1149 L1441.5 1147.5 L1442 1145.3 L1442.5 1145.8 L1443 1145.2 L1443.5 1142.6 L1444 1142.5 L1444.5 1140.8 L1446.7 1146.7 L1450 1155.8 L1450.6 1156.9 L1451.1 1161.1 L1451.7 1157.1 L1452.2 1158.3 L1452.8 1155 L1453.3 1155.8 L1453.8 1159.5 L1454.3 1160.8 L1454.8 1157.8 L1455.3 1160.1 L1455.8 1160 L1458 1166.7 L1459.7 1160 L1460.2 1160.5 L1460.7 1160.4 L1461.2 1163.5 L1461.8 1160.4 L1462.3 1160.7 L1462.8 1159.9 L1463.3 1160.8 L1463.8 1159.4 L1464.3 1162.3 L1464.8 1157.2 L1465.3 1156.9 L1465.8 1155.8 L1466.4 1156.3 L1466.9 1158.7 L1467.5 1160.8 L1468.1 1158.2 L1468.6 1158.5 L1469.2 1160 L1470.8 1155.8 L1471.4 1154.7 L1471.9 1154.6 L1472.4 1159.5 L1472.9 1153.7 L1473.4 1153.6 L1474 1153.1 L1474.5 1153.1 L1475 1152.5 L1475.6 1152.1 L1476.1 1151.8 L1476.7 1154 L1477.2 1156.1 L1477.8 1151.7 L1478.3 1152.5 L1480 1157.5 L1482.5 1150.8 L1483.1 1152.6 L1483.6 1148 L1484.2 1146.7 L1484.7 1146 L1485.2 1148.9 L1485.7 1146.7 L1486.2 1145 L1487.5 1157.5 L1489.2 1148.3 L1489.7 1152.8 L1490.2 1149.9 L1490.7 1151 L1491.2 1153.5 L1491.7 1150.8 L1492.2 1149.8 L1492.8 1149.7 L1493.3 1149.2 L1495.8 1155.8 L1497.5 1150.8 L1498.1 1152.7 L1498.6 1153.1 L1499.2 1153.8 L1499.7 1156 L1500.3 1154.2 L1500.8 1155.8 L1501.4 1157 L1501.9 1157.3 L1502.5 1159.5 L1503.1 1159.7 L1503.6 1160.6 L1504.2 1159.2 L1504.7 1159.3 L1505.2 1160.1 L1505.7 1162.8 L1506.2 1160.1 L1506.8 1160.7 L1507.3 1159.2 L1507.8 1161.8 L1508.3 1160 L1509.7 1175 L1510.8 1162.5 L1511.4 1162.3 L1511.9 1164.1 L1512.5 1163.2 L1513.1 1164.3 L1513.6 1163.4 L1514.2 1164.2 L1515 1170 L1517.5 1158.3 L1518 1160.6 L1518.5 1161.6 L1519 1159.5 L1519.5 1159.6 L1520 1160.8 L1520.5 1160.9 L1521 1162 L1521.5 1159.8 L1522 1161 L1522.5 1160 L1523.3 1168.3 L1525 1160 L1525.5 1162.5 L1526 1161.4 L1526.5 1165.3 L1527 1161.6 L1527.5 1160.8 L1529.2 1169.2 L1530.8 1160 L1531.3 1163.1 L1531.8 1160.8 L1532.3 1162.5 L1532.8 1164.6 L1533.3 1164.2 L1533.9 1163.8 L1534.4 1166.9 L1535 1164.2 L1535.6 1165.4 L1536.1 1167.9 L1536.7 1165.8 L1537.2 1166.9 L1537.7 1167.4 L1538.2 1168 L1538.7 1167.9 L1539.2 1167.5 L1539.7 1167.3 L1540.2 1166 L1540.7 1165.8 L1541.2 1165.9 L1541.7 1165 L1543.3 1160.8 L1543.9 1162.8 L1544.4 1163.5 L1545 1161.5 L1545.6 1165.9 L1546.1 1163.4 L1546.7 1162.5 L1547.2 1163.1 L1547.7 1162.1 L1548.2 1162 L1548.7 1162.3 L1549.2 1158.3 L1549.7 1159.1 L1550.2 1156.8 L1550.7 1157.7 L1551.2 1158.4 L1551.8 1156.3 L1552.3 1158.6 L1552.8 1156.8 L1553.3 1154.2 L1553.8 1155.3 L1554.3 1153.5 L1554.8 1156.9 L1555.3 1153.3 L1555.8 1153.3 L1557.5 1159.2 L1558.1 1163.4 L1558.6 1161.3 L1559.2 1163.3 L1559.7 1163.1 L1560.2 1163.1 L1560.7 1163.3 L1561.2 1166.5 L1561.7 1164.2 L1562.2 1167.4 L1562.7 1166.7 L1563.2 1169.2 L1563.7 1169.2 L1564.2 1168.3 L1565.8 1156.7 L1566.4 1156.3 L1566.9 1155.6 L1567.5 1161.5 L1568.1 1158.8 L1568.6 1156.2 L1569.2 1155.8 L1571.7 1164.2 L1573.8 1172.5 L1575.8 1165.8 L1576.4 1172.7 L1576.9 1168 L1577.5 1170 L1579.2 1159.2 L1579.7 1159.6 L1580.2 1159.5 L1580.7 1159.6 L1581.2 1159.1 L1581.8 1157.8 L1582.3 1158 L1582.8 1160.7 L1583.3 1157.5 L1583.9 1158.2 L1584.4 1158.2 L1585 1159 L1585.6 1159.3 L1586.1 1157.2 L1586.7 1157.5 L1587.2 1156.6 L1587.7 1158.4 L1588.2 1157.4 L1588.8 1156.2 L1589.3 1157.1 L1589.8 1157.2 L1590.3 1156.3 L1590.8 1155.8 L1592.5 1160.8 L1593 1160.4 L1593.5 1160.4 L1594 1163.7 L1594.5 1161.1 L1595 1160.8 L1596.7 1155 L1597.2 1156.2 L1597.7 1158.5 L1598.2 1157.6 L1598.7 1154.8 L1599.2 1155.8 L1600.8 1165.8 L1602.8 1153.3 L1603.3 1154.6 L1603.8 1158.6 L1604.3 1156.4 L1604.8 1158.3 L1605.3 1160.7 L1605.8 1160.8 L1606.3 1161.2 L1606.8 1163.8 L1607.3 1167.1 L1607.8 1166.3 L1608.3 1164.2 L1608.9 1164.3 L1609.4 1164.8 L1610 1164.1 L1610.6 1164.8 L1611.1 1164.2 L1611.7 1164.2 L1612.2 1164.8 L1612.8 1170.2 L1613.3 1163.8 L1613.9 1163.8 L1614.4 1165.7 L1615 1163.3 L1615.5 1163.6 L1616 1166.3 L1616.5 1166.4 L1617 1169.2 L1617.5 1165.8 L1618.3 1172.5 L1619.7 1165 L1620.8 1175 L1621.4 1174.2 L1622 1175 L1623.3 1157.5 L1625.3 1170.8 L1627.5 1157.5 L1630 1164.2 L1632 1175 L1633.3 1163.3 L1633.9 1163.9 L1634.4 1164.3 L1635 1163.1 L1635.6 1162 L1636.1 1161.2 L1636.7 1160.8 L1637.2 1159.6 L1637.8 1161.8 L1638.3 1160.7 L1638.9 1160.4 L1639.4 1157.7 L1640 1157.5 L1640.6 1160.6 L1641.1 1156.8 L1641.7 1155.4 L1642.2 1158.2 L1642.8 1154.7 L1643.3 1155 L1643.8 1154.3 L1644.3 1156.4 L1644.8 1153.7 L1645.3 1154.4 L1645.8 1152.1 L1646.3 1152 L1646.9 1153.5 L1647.5 1154.2 L1648 1153.5 L1648.6 1154.5 L1649.2 1155 L1650.8 1162.5 L1652.5 1152.5 L1653 1153.5 L1653.5 1154.9 L1654 1152.1 L1654.5 1152.3 L1655 1152.5 L1655.5 1155.1 L1656 1153.7 L1656.5 1155.9 L1657 1157.7 L1657.5 1157.5 L1659.5 1172.5 L1660.8 1162.5 L1661.4 1162.5 L1661.9 1164.1 L1662.5 1162.7 L1663.1 1166.8 L1663.6 1167.8 L1664.2 1164.2 L1665.8 1168.3 L1666.7 1162.5 L1667.2 1162.4 L1667.7 1165 L1668.2 1163.9 L1668.7 1165.8 L1669.2 1164.2 L1669.7 1164.3 L1670.3 1163.8 L1670.8 1163.3 L1672.5 1169.2 L1673.1 1170.9 L1673.6 1165.8 L1674.2 1165 L1674.7 1166.3 L1675.2 1164.5 L1675.7 1163.2 L1676.2 1164.8 L1676.7 1162.5 L1677.2 1170 L1678 1160 L1678.5 1159 L1679 1159.4 L1679.6 1159.7 L1680.1 1160.5 L1680.6 1155.3 L1681.1 1155.4 L1681.7 1154.2 L1685 1145 L1685.6 1144.3 L1686.1 1144.1 L1686.7 1143.3 L1688.3 1147.5 L1688.9 1147 L1689.4 1144.7 L1690 1144.2 L1692.8 1151.7 L1694.2 1147.5 L1694.7 1147.7 L1695.3 1145.8 L1695.8 1146.7 L1696.4 1146.6 L1696.9 1144.9 L1697.5 1143.3 L1699.5 1134.2 L1700.8 1141.7 L1701.4 1142 L1701.9 1141.2 L1702.5 1139.2 L1704.2 1145 L1705.3 1138.3 L1707.5 1146.7 L1710 1157.5 L1712.5 1146.7 L1713.1 1146.3 L1713.6 1147.3 L1714.2 1146.7 L1715.8 1150.8 L1716.4 1150.4 L1716.9 1150.5 L1717.5 1148.3 L1720 1156.7 L1720.5 1159.7 L1721 1159.2 L1721.5 1159.8 L1722 1160.8 L1724.2 1154.2 L1724.7 1154.2 L1725.2 1152.1 L1725.7 1153.2 L1726.2 1152.7 L1726.7 1149.2 L1727.2 1149.4 L1727.7 1149.1 L1728.2 1150 L1728.7 1149.7 L1729.2 1150 L1729.7 1151.6 L1730.2 1152.7 L1730.7 1153 L1731.2 1153.2 L1731.7 1154.2 L1732.2 1155.3 L1732.7 1153.2 L1733.2 1153.3 L1733.7 1152.2 L1734.2 1151.7 L1736.3 1157.5 L1737.5 1150.8 L1738 1150.2 L1738.6 1148.2 L1739.1 1147.6 L1739.7 1146.7 L1740.8 1131.7 L1741.3 1130.6 L1741.8 1130.2 L1742.3 1128.4 L1742.8 1127.5 L1745 1137.5 L1745.5 1137.9 L1746 1138 L1746.5 1138.2 L1747 1138 L1747.5 1138.3 L1748 1138.9 L1748.5 1141.5 L1749 1138.6 L1749.5 1137.5 L1750 1137.5 L1750.8 1140.8 L1752.5 1130.8 L1755.3 1123.3 L1757.5 1130.8 L1760 1124.2 L1760.6 1126.3 L1761.1 1123.8 L1761.7 1122.5 L1762.2 1122.2 L1762.7 1123.5 L1763.2 1119.4 L1763.7 1119.2 L1765.8 1130.8 L1767.5 1123.3 L1768.1 1122.5 L1768.6 1122.8 L1769.2 1120 L1770.8 1113.3 L1772 1119.2 L1774.2 1100.8 L1776.2 1110.8 L1776.7 1110.4 L1777.2 1109 L1777.8 1108.7 L1778.3 1108.3 L1778.9 1107.8 L1779.4 1108.5 L1780 1105.8 L1780.6 1107.5 L1781.1 1110.5 L1781.7 1110 L1784.2 1097.5 L1785.8 1090.8 L1787.8 1104.2 L1790 1084.2 L1792.5 1091.7 L1793.3 1081.7 L1795 1065.8 L1795.6 1066.4 L1796.1 1066.3 L1796.7 1065.8 L1798 1093.3 L1799.7 1122.5 L1801.7 1103.3 L1803.3 1086.7 L1805 1071.7 L1806.3 1048.3 L1806.8 1047.7 L1807.3 1046.6 L1807.8 1046.2 L1808.3 1044.2 L1809.5 1031.7 L1810 1046.7 L1810.8 1016.7 L1812 962.5 L1812.8 964 L1815 915 L1816.5 860 L1818.2 810 L1820 780 L1821.5 783 L1822.5 770 L1825 745 L1826.8 702.5 L1827.2 682.5 L1827.8 676.2 L1829.2 660 L1830.7 605.8 L1832.2 549 L1835.1 600.7 L1835.8 547.5 L1837 503.8 L1838 460 L1839 440.8 L1839.7 408.9 L1840.7 367.2 L1841.8 339.4 L1842.5 326.9 L1844.7 326.9 L1845 333.9 L1846 311.7 L1846.9 290.8 L1848.1 270 L1848.5 250 L1849.4 212.5 L1850 187.5 L1850.2 178.8 L1851.4 177.5 L1851.8 186.2 L1852.5 167.5 L1853.1 165 L1855 162.5 L1856 152.5 L1856.9 141.9 L1860.6 141.9 L1861.5 131.2 L1864.4 129.4 L1866.2 116.2 L1867.5 112.5 L1868.2 107.5" stroke="#ff0000" stroke-width="2.2" transform="translate(0,-0.6)"/>
<path d="M342.9 787.4V790.6M347.2 795.1V803.8M368.8 910.8V928.8M375.4 929.5V942.4M381.5 940.1V953.4M375.6 930.1V943.0M381.5 940.1V953.4M395.2 957.6V978.0M410.0 978.9V998.3M412.8 985.8V1006.2M417.5 1003.2V1022.8M437.5 997.0V1031.2M435.0 1029.5V1043.8M443.5 1058.2V1076.5M452.8 1077.6V1095.4M450.2 1084.5V1095.2M473.5 1088.2V1096.9M473.7 1087.8V1097.0M494.5 1106.2V1109.6M500.0 1107.8V1116.3M520.8 1087.0V1106.7M522.8 1087.8V1105.7M527.5 1053.7V1091.7M532.0 1097.8V1102.0M548.3 1095.3V1103.3M559.5 1093.7V1110.9M571.2 1092.0V1107.6M572.8 1090.8V1105.6M588.3 1097.0V1110.3M625.3 1067.5V1071.7M644.2 1074.8V1091.7M646.2 1077.0V1096.7M660.8 1088.7V1105.6M665.8 1084.8V1091.7M678.7 1108.7V1117.5M682.0 1108.7V1129.4M686.3 1124.5V1131.8M689.2 1122.0V1133.7M704.7 1129.8V1142.4M722.5 1137.8V1148.3M729.7 1126.2V1149.7M734.2 1135.3V1145.4M743.3 1136.2V1143.2M763.0 1128.2V1136.9M597.8 838.2V1097.9M793.3 1133.7V1148.3M795.3 1141.2V1147.0M808.3 1118.7V1126.2M810.0 1107.8V1118.8M830.8 1092.8V1114.2M842.0 1087.8V1107.5M847.0 1102.0V1121.5M888.7 1142.0V1147.3M885.8 1145.3V1147.2M909.2 1140.3V1154.6M916.2 1135.3V1152.5M932.2 1132.8V1148.8M942.5 1141.2V1152.2M993.7 1136.2V1151.8M998.3 1145.3V1151.7M1006.3 1147.8V1153.6M1064.2 1157.0V1164.2M1055.0 1160.3V1165.1M1064.2 1157.0V1164.2M1092.5 1152.5V1170.0M1166.3 1150.3V1165.3M1194.7 1162.0V1166.4M1218.3 1152.3V1165.5M1234.3 1146.2V1161.2M1255.8 1157.5V1165.5M1264.5 1153.2V1164.3M1328.8 1150.7V1158.7M1365.8 1153.7V1156.7M1365.8 1153.7V1156.7M1465.5 1143.7V1156.5M1469.2 1152.8V1160.0M1508.7 1149.5V1163.8M1521.3 1144.8V1160.4M1541.3 1153.7V1165.3M1543.3 1151.5V1160.8M1612.0 1158.7V1164.1M1692.5 1136.2V1150.8M1727.5 1134.2V1149.4M1740.3 1122.3V1138.1" stroke="#ff0000" stroke-width="2.5"/>
<path d="M280.6 150.6 L281.9 150 L283.1 148.5 L284.4 143.8 L286.2 139.4 L287.5 142.5 L288.8 150 L290.2 157.5 L291.9 161.9 L293.5 158.8 L295 152.5 L296.5 146.2 L297.8 143.1 L299 144 L300 146.9 L300.9 151.2 L301.2 155 L301.6 165 L301.9 175 L302.8 200 L303.8 225 L305 250 L307.2 280 L308.1 307.5 L310 340 L311.9 377.5 L313.8 407.5 L314.8 432.5 L316 450 L318 497.5 L321.2 530 L323.8 567.5 L326 576.2 L328 615 L329.5 652.5 L331 702.5 L333 745 L334.5 770 L334 770 L335.2 791.2 L336.9 808.8 L338.1 814.4 L339.4 807.5 L340.6 800 L341.9 793.1 L343.1 790 L344.4 793.8 L345.6 798.8 L347.2 803.8 L350 827.5 L352.5 845 L355 861.2 L358.8 880 L361.2 892.5 L364.4 908.8 L366.2 923.8 L366.9 924.4 L367.5 925.5 L368.1 926.2 L369.4 931.2 L370 932.5 L371 942.5 L371.9 943.8 L372.8 940 L373.2 940.6 L373.8 938.8 L374.2 940.5 L374.8 941 L375.2 941.9 L375.8 943.3 L376.2 944.4 L376.8 945.8 L377.2 948.1 L377.8 947.5 L378.2 948.9 L378.8 950 L379.3 950.5 L379.8 951.3 L380.3 952.2 L380.8 953.2 L381.3 953.1 L381.8 954.1 L382.3 954.6 L382.8 954.9 L383.3 955.3 L383.8 956.8 L384.3 956.6 L384.8 957.8 L385.4 958.8 L385.9 959 L386.4 960.1 L386.9 960 L389.4 970 L389.9 970.8 L390.4 971.8 L390.9 972.6 L391.5 973.7 L392 974.2 L392.5 975 L393 976.2 L393.5 975.9 L394 977.5 L394.5 978.4 L395 977.5 L395.5 979.8 L396.1 980 L396.6 980.6 L397.1 981.6 L397.7 982.6 L398.2 984.3 L398.8 985 L399.2 986.4 L399.8 986.6 L400.2 987.5 L401.2 996.2 L401.9 985 L402.5 984.4 L403.1 983.9 L403.8 983.1 L404.4 983.9 L405 983.6 L405.6 982.5 L406.2 983.5 L406.7 985.2 L407.2 986.2 L408.8 995 L412.5 1005 L415.6 1020 L416.1 1020.4 L416.6 1021.2 L417.1 1023.5 L417.6 1023.4 L418.1 1023.8 L419.8 1019.4 L420.2 1021 L420.8 1018.9 L421.2 1018.1 L421.9 1019.3 L422.5 1019.9 L423.1 1020 L423.8 1021.7 L424.4 1022.8 L425 1023.8 L428.1 1035 L428.6 1035.6 L429.2 1036.8 L429.7 1037.4 L430.2 1039.8 L430.7 1039.2 L431.2 1040 L431.8 1040.5 L432.3 1041 L432.9 1041.6 L433.4 1042.6 L433.9 1042.5 L434.5 1043.2 L435 1043.8 L436.2 1051.2 L437.2 1047.5 L437.5 1031.2 L437.8 1057.5 L438.8 1065 L439.3 1066.4 L439.8 1068.9 L440.4 1068.7 L440.9 1069.8 L441.4 1071 L442 1072.9 L442.5 1073.8 L447.5 1087.5 L450.6 1096.2 L451.1 1097 L451.7 1096.4 L452.2 1097 L452.7 1095.3 L453.2 1095.4 L453.8 1095 L454.4 1096.7 L455 1098 L455.6 1097.5 L456.1 1096 L456.6 1096.3 L457.1 1093.7 L457.6 1093.4 L458.1 1091.9 L458.8 1093.3 L459.4 1090.6 L460 1089.4 L460.6 1090.2 L461.2 1091.1 L461.9 1091.9 L462.5 1092.8 L463.1 1095.1 L463.8 1095 L464.2 1096.2 L464.8 1094.4 L465.2 1095.6 L465.8 1096.3 L466.2 1094.4 L466.8 1094.6 L467.2 1093.9 L467.8 1094.9 L468.2 1097.1 L468.8 1094.4 L469.3 1096 L469.8 1095 L470.4 1096.2 L470.9 1097.2 L471.4 1096.8 L472 1098.6 L472.5 1096.2 L473 1099.8 L473.5 1096.5 L474 1099.6 L474.5 1097.4 L475 1097.6 L475.5 1098.3 L476 1098 L476.5 1099.9 L477 1100.4 L477.5 1099.4 L478 1101.3 L478.5 1102 L479 1101.4 L479.5 1102 L480 1101.3 L480.5 1102.2 L481 1100.9 L481.6 1101 L482.1 1103 L482.6 1101.3 L483.1 1102.6 L483.6 1101.2 L484.2 1101.7 L484.7 1103.4 L485.3 1104.2 L485.8 1106.9 L486.4 1106.7 L486.9 1109.7 L487.5 1110 L488.1 1110.2 L488.6 1110.2 L489.2 1111.2 L489.7 1111.9 L490.3 1110.8 L490.8 1110.8 L491.7 1116.7 L493.3 1110 L493.8 1109.3 L494.3 1110.7 L494.8 1109.3 L495.3 1109.3 L495.8 1109.2 L496.4 1109.6 L496.9 1111 L497.5 1112.1 L498.1 1112.9 L498.6 1115.1 L499.2 1115 L499.7 1117.4 L500.2 1117.3 L500.7 1117.3 L501.2 1118.1 L501.8 1119.3 L502.3 1119.9 L502.8 1121 L503.3 1121.7 L505.8 1113.3 L506.3 1113.6 L506.8 1112.4 L507.3 1111.4 L507.8 1110.5 L508.3 1109.2 L508.9 1110.4 L509.4 1113.9 L510 1113.7 L510.6 1113 L511.1 1116 L511.7 1115 L512.2 1115.6 L512.8 1115.9 L513.3 1116.4 L513.9 1114.2 L514.4 1114 L515 1114.2 L515.6 1116.8 L516.1 1115.8 L516.7 1117 L517.2 1116.5 L517.8 1116.8 L518.3 1116.7 L520.8 1106.7 L521.4 1106.1 L521.9 1105.6 L522.5 1105.9 L523.1 1106.2 L523.6 1105.2 L524.2 1105 L524.7 1105.5 L525.2 1107.1 L525.7 1106.8 L526.2 1109.2 L526.7 1106.7 L527.3 1086.7 L528 1106.7 L528.6 1106.9 L529.1 1106.3 L529.7 1108 L530.3 1107.6 L530.8 1106.7 L534.2 1093.3 L537 1085.3 L537.5 1085.9 L538 1086.9 L538.5 1087.4 L539 1086.9 L539.5 1088.1 L540 1088.3 L543.3 1101.7 L543.8 1102 L544.3 1102 L544.8 1100.5 L545.3 1101.2 L545.8 1099.2 L546.3 1100.7 L546.8 1100.4 L547.3 1102 L547.8 1102.7 L548.3 1103.3 L550.8 1115.8 L551.4 1116.7 L551.9 1117.4 L552.4 1116.3 L552.9 1118 L553.4 1117.7 L554 1117.7 L554.5 1118 L555 1118 L555.5 1117.7 L556 1116.3 L556.6 1114.9 L557.1 1115.5 L557.6 1114.1 L558.1 1113.8 L558.6 1112.9 L559.2 1110.8 L559.7 1113.8 L560.2 1110.8 L560.7 1111.1 L561.2 1112.4 L561.7 1112.6 L562.2 1112.8 L562.7 1111.6 L563.2 1112.4 L563.7 1113.3 L564.2 1112.5 L564.7 1113.2 L565.3 1113.9 L565.8 1115.5 L566.4 1115.7 L566.9 1116.1 L567.5 1115.8 L569.2 1110 L569.7 1112.8 L570.2 1108.2 L570.7 1109.1 L571.2 1108.9 L571.8 1107.1 L572.3 1105.9 L572.8 1107.1 L573.3 1105 L573.8 1104.9 L574.3 1102.6 L574.8 1102.3 L575.3 1102.4 L575.8 1100 L576.4 1100.6 L576.9 1100.9 L577.5 1101.7 L581.3 1090.8 L584.2 1101.7 L586.7 1110.8 L587.2 1110.8 L587.7 1111.5 L588.2 1110.7 L588.7 1111.3 L589.2 1110 L589.7 1111.9 L590.2 1111.6 L590.7 1113.1 L591.2 1114 L591.7 1115 L592.2 1115.4 L592.7 1113.7 L593.2 1114.1 L593.8 1113.1 L594.3 1112.8 L594.8 1113.6 L595.3 1112.2 L595.8 1111.7 L596.8 1039.2 L598 1110 L600.8 1119.2 L602.5 1113.3 L604.2 1119.2 L606.7 1112.5 L607.2 1111.4 L607.7 1112 L608.2 1111 L608.8 1110.9 L609.3 1108.3 L609.8 1107.8 L610.3 1107.5 L610.8 1106.7 L611.3 1105.1 L611.8 1104.1 L612.3 1105.2 L612.8 1104.1 L613.3 1101.7 L613.8 1101.1 L614.3 1101.6 L614.8 1101.1 L615.3 1100.4 L615.8 1100 L620 1086.7 L620.5 1087.3 L621 1087.6 L621.5 1089 L622 1089.1 L622.5 1090 L625.3 1071.7 L625.9 1072.8 L626.4 1074.7 L627 1075.5 L627.5 1076.7 L630 1095 L630.6 1097.2 L631.1 1101 L631.7 1098.3 L633.3 1083.3 L633.9 1082 L634.5 1080.1 L635 1083.6 L635.6 1078.4 L636.2 1076.7 L639.2 1085 L639.7 1086.5 L640.2 1086.7 L640.7 1091 L641.2 1088.9 L641.7 1090 L643.3 1076.7 L644.2 1091.7 L644.7 1094 L645.3 1094.3 L645.8 1096 L646.4 1097.2 L646.9 1100.8 L647.5 1100 L648 1100.5 L648.5 1101.1 L649.1 1101.8 L649.6 1102 L650.1 1103.7 L650.6 1103.9 L651.1 1104.3 L651.7 1104.2 L652.2 1102.9 L652.7 1102.5 L653.2 1104.4 L653.7 1102 L654.2 1100 L654.7 1101.3 L655.3 1099.4 L655.8 1100.7 L656.4 1101.1 L656.9 1101.6 L657.5 1100 L658 1101.6 L658.5 1103.6 L659 1104.6 L659.5 1104.5 L660 1105 L660.5 1104.8 L661 1105.7 L661.5 1106.7 L662 1108.6 L662.5 1106.7 L664.7 1116.7 L665.8 1091.7 L666.7 1119.2 L667.2 1117.9 L667.7 1120.9 L668.2 1116.4 L668.7 1118.2 L669.2 1115 L669.7 1115.4 L670.2 1115.8 L670.7 1115.8 L671.2 1116.1 L671.7 1116.7 L673.3 1123.3 L673.8 1123.5 L674.3 1124.3 L674.8 1125.9 L675.3 1123.6 L675.8 1123.3 L676.3 1123 L676.8 1121.6 L677.3 1122.7 L677.8 1121.2 L678.3 1120 L679.7 1110 L681.3 1129.2 L681.9 1129.6 L682.5 1129.4 L683 1129.1 L683.6 1129.6 L684.2 1130 L684.7 1130.6 L685.3 1131.9 L685.8 1132.5 L686.3 1132.1 L686.8 1130.6 L687.3 1130.3 L687.8 1130.1 L688.3 1129.2 L690 1138.3 L690.5 1138.1 L691 1139.8 L691.5 1136.5 L692 1137.1 L692.5 1135.8 L695 1149.2 L696.7 1141.7 L697.2 1141.7 L697.8 1141.8 L698.3 1140.9 L698.9 1140.9 L699.4 1142.6 L700 1140.8 L700.5 1142 L701 1141.6 L701.5 1141.2 L702 1140.9 L702.5 1141.4 L703 1142.1 L703.5 1143.2 L704 1143.5 L704.5 1144.4 L705 1142.5 L705.5 1142.5 L706 1143.6 L706.5 1143 L707 1143.1 L707.5 1143.9 L708 1143.8 L708.5 1145 L709 1144.2 L709.5 1144.5 L710 1145 L710.6 1144.6 L711.1 1144.8 L711.7 1147 L712.2 1145.4 L712.8 1148.3 L713.3 1145.8 L713.8 1145.2 L714.3 1148.1 L714.8 1145.8 L715.3 1145.6 L715.8 1144.2 L716.4 1147.2 L716.9 1144.9 L717.5 1144.8 L718.1 1146.6 L718.6 1146.6 L719.2 1146.7 L719.7 1148.5 L720.3 1146.9 L720.8 1148.7 L721.4 1148.7 L721.9 1149.2 L722.5 1148.3 L723 1147.3 L723.5 1149.5 L724 1147.9 L724.5 1149 L725 1145.8 L725.6 1145.2 L726.1 1145.5 L726.7 1145.2 L727.2 1146.1 L727.8 1146 L728.3 1145 L730 1150.8 L731.7 1145.8 L732.2 1146.5 L732.7 1145.4 L733.2 1145.6 L733.7 1146.1 L734.2 1145.3 L734.7 1144.8 L735.2 1145.6 L735.7 1145.6 L736.2 1145 L736.7 1145 L737.2 1145.2 L737.7 1144.1 L738.3 1144.5 L738.8 1143.7 L739.3 1146 L739.8 1145.8 L740.4 1144.4 L740.9 1146.2 L741.4 1144.6 L742 1144.5 L742.5 1143 L743 1143.1 L743.5 1145.8 L744.1 1143.5 L744.6 1143.6 L745.1 1143.4 L745.6 1144.2 L746.1 1143.5 L746.7 1144.2 L747.2 1143.9 L747.7 1144.4 L748.2 1145.1 L748.7 1144.7 L749.2 1144.6 L749.7 1146.3 L750.2 1145.3 L750.7 1145.4 L751.2 1146.3 L751.7 1145.8 L752.2 1146.7 L752.8 1146.4 L753.3 1148.7 L753.9 1148.2 L754.4 1148 L755 1148.3 L755.6 1151.3 L756.1 1147.1 L756.7 1144.2 L757.2 1144.4 L757.8 1145.6 L758.3 1142.9 L758.9 1142.9 L759.4 1142.5 L760 1142.5 L760.5 1141.7 L761 1140 L761.6 1139.5 L762.1 1138.3 L762.6 1137.9 L763.1 1136.2 L763.6 1139.5 L764.2 1134.7 L764.7 1134.8 L765.3 1136.5 L765.8 1136.5 L766.4 1136.2 L766.9 1137.3 L767.5 1137.5 L770.8 1146.7 L771.4 1147.3 L771.9 1148.5 L772.5 1149.9 L773.1 1149.6 L773.6 1152.5 L774.2 1151.7 L776.2 1157.5 L776.7 1150.8 L777.2 1153.1 L777.7 1152.9 L778.2 1151.1 L778.8 1152.4 L779.3 1151.3 L779.8 1152.1 L780.3 1151.7 L780.8 1151.7 L781.4 1152.2 L781.9 1152.9 L782.5 1154.2 L783 1153.1 L783.5 1154.4 L784 1152.2 L784.5 1152.2 L785 1150.8 L785.6 1150.9 L786.1 1150.8 L786.7 1152.5 L787.2 1151.3 L787.8 1152.8 L788.3 1151.7 L790 1146.7 L790.6 1147.9 L791.1 1147.3 L791.7 1147.1 L792.2 1147.5 L792.8 1149.8 L793.3 1148.3 L793.8 1150.7 L794.3 1147.2 L794.8 1147.5 L795.3 1149.3 L795.8 1146.7 L796.4 1146.9 L797 1148.5 L797.5 1148.9 L798.1 1150.1 L798.7 1150.8 L799.2 1149.3 L799.8 1148.7 L800.3 1147.3 L800.8 1145.8 L801.4 1144.5 L801.9 1144.5 L802.5 1144.8 L803.1 1142.6 L803.6 1141.4 L804.2 1140 L807.5 1130 L810.8 1115 L813 1108.3 L813.5 1108.5 L814 1108.1 L814.5 1109.7 L815 1106.7 L815.5 1109.6 L816 1108.4 L816.5 1110.1 L817 1111.5 L817.5 1111.7 L818 1113.8 L818.5 1113.1 L819 1114.5 L819.5 1117.5 L820 1116.7 L820.3 1122.5 L822 1117.5 L822.5 1119.8 L823 1117.4 L823.6 1117 L824.1 1118.3 L824.6 1117.6 L825.1 1117.2 L825.6 1118.8 L826.1 1117.9 L826.7 1117.5 L827.2 1117.3 L827.7 1116.8 L828.2 1116.1 L828.8 1117.3 L829.3 1117.1 L829.8 1115.9 L830.3 1115 L830.8 1114.2 L831.7 1095 L832.2 1096.9 L832.7 1094.1 L833.2 1094.1 L833.8 1094 L834.3 1092.1 L834.8 1094.3 L835.3 1091.7 L835.9 1095.2 L836.4 1095.1 L837 1094.3 L837.5 1095 L838.7 1104.2 L840 1096.7 L840.6 1096.1 L841.1 1097.4 L841.7 1095.8 L842.2 1113.3 L842.7 1113.3 L843.3 1117 L843.9 1115.3 L844.4 1114.8 L845 1115.8 L845.8 1119.2 L846.4 1119.8 L846.9 1122.9 L847.5 1122.4 L848.1 1124.9 L848.6 1124.7 L849.2 1125.8 L849.7 1126.8 L850.2 1128.9 L850.7 1128.6 L851.2 1128.4 L851.7 1129.2 L852.2 1128.8 L852.7 1130.4 L853.2 1128.7 L853.7 1128.7 L854.2 1129.2 L854.7 1129.9 L855.2 1134 L855.7 1132.9 L856.2 1134 L856.7 1135 L857.2 1136.8 L857.7 1137.9 L858.2 1139.9 L858.7 1138.9 L859.2 1140 L859.7 1141.5 L860.2 1140.6 L860.7 1140.3 L861.2 1141.8 L861.7 1140.4 L862.2 1140.7 L862.7 1141.1 L863.2 1141.3 L863.7 1142.3 L864.2 1141.7 L864.7 1142.4 L865.2 1141.8 L865.7 1141.2 L866.2 1140.8 L866.7 1140.8 L867.2 1141.3 L867.7 1142.3 L868.2 1142.6 L868.8 1145.6 L869.3 1144.4 L869.8 1145.5 L870.3 1147 L870.8 1146.7 L871.4 1148.3 L871.9 1148.2 L872.4 1147.6 L872.9 1147.9 L873.4 1148.4 L874 1149.8 L874.5 1151.5 L875 1150 L875.5 1151 L876 1151.8 L876.5 1150.8 L877 1151 L877.5 1150.5 L878 1151.4 L878.5 1151.3 L879 1150.9 L879.5 1150.9 L880 1151.7 L880.5 1151.1 L881 1151.5 L881.6 1151 L882.1 1151.1 L882.6 1150.5 L883.1 1151.8 L883.6 1150 L884.2 1150 L884.7 1149 L885.2 1148.2 L885.7 1148.7 L886.2 1148.2 L886.7 1145.8 L887.2 1147.3 L887.8 1147 L888.3 1146.6 L888.9 1148.2 L889.4 1147.3 L890 1148.3 L891.3 1157.5 L892.5 1150 L893.1 1150.7 L893.6 1149.2 L894.2 1149.3 L894.7 1149.3 L895.3 1149.1 L895.8 1148.3 L896.4 1149.5 L896.9 1150.1 L897.5 1149 L898.1 1150.9 L898.6 1149.1 L899.2 1149.2 L899.7 1150.2 L900.3 1152.4 L900.8 1152 L901.4 1153.3 L901.9 1154.1 L902.5 1155 L903 1155.5 L903.5 1154.7 L904.1 1155.3 L904.6 1157.6 L905.1 1157.4 L905.6 1155.8 L906.1 1155.5 L906.7 1155.8 L907.2 1156.6 L907.8 1155.9 L908.3 1154.9 L908.9 1155.6 L909.4 1155 L910 1154.2 L910.5 1155.5 L911 1155.8 L911.5 1156 L912 1156.6 L912.5 1156.8 L913 1157.5 L913.5 1156 L914 1156.4 L914.5 1154.1 L915 1152.5 L915.5 1153 L916 1153 L916.5 1152.7 L917 1152.6 L917.5 1152.6 L918 1152.9 L918.5 1152.8 L919 1152.7 L919.5 1153.6 L920 1152.5 L920.6 1157.9 L921.1 1153.5 L921.7 1154.6 L922.2 1157.7 L922.8 1156.8 L923.3 1156.7 L925 1150.8 L925.6 1151.8 L926.1 1153.5 L926.7 1154.6 L927.2 1154.4 L927.8 1154.7 L928.3 1155.8 L931.7 1145.8 L933.3 1155.8 L935 1150.8 L935.5 1150.3 L936 1150.9 L936.6 1151.2 L937.1 1152 L937.6 1152 L938.1 1151.2 L938.6 1150.6 L939.2 1150.8 L939.7 1152.6 L940.2 1151.1 L940.7 1153.2 L941.2 1152.6 L941.8 1152.9 L942.3 1153.1 L942.8 1152 L943.3 1152.5 L943.9 1153.1 L944.4 1153.6 L944.9 1153.3 L945.4 1152.5 L945.9 1153 L946.5 1153.6 L947 1153.4 L947.5 1153.3 L948.1 1152.1 L948.6 1152 L949.2 1149.2 L949.7 1148.5 L950.2 1148.9 L950.8 1149.8 L951.3 1148.9 L951.8 1149.2 L952.3 1150.4 L952.9 1148.9 L953.4 1149.5 L953.9 1149.8 L954.5 1149.6 L955 1148.3 L956.7 1155 L957.2 1154.3 L957.7 1153.7 L958.2 1153.2 L958.7 1153.4 L959.2 1151.7 L959.7 1153.1 L960.2 1151.9 L960.7 1151.4 L961.2 1151.8 L961.8 1151.1 L962.3 1150 L962.8 1150.7 L963.3 1149.5 L963.8 1150.1 L964.3 1150 L964.8 1151.4 L965.3 1150.1 L965.8 1150.4 L966.3 1149 L966.8 1151.4 L967.3 1149 L967.8 1150.2 L968.3 1149.5 L968.8 1151.3 L969.3 1149.8 L969.8 1149.7 L970.3 1151.5 L970.8 1150.3 L971.3 1152 L971.8 1153.6 L972.3 1150.9 L972.8 1151.1 L973.3 1151.7 L973.8 1152.5 L974.3 1153.4 L974.8 1153.5 L975.3 1151.8 L975.8 1153 L976.3 1152.4 L976.8 1152.3 L977.3 1152.9 L977.8 1155.4 L978.3 1152.5 L978.9 1152.9 L979.4 1154.1 L980 1155.4 L980.6 1159.1 L981.1 1157.8 L981.7 1157.5 L982.2 1156.5 L982.7 1156 L983.2 1156 L983.7 1154.4 L984.2 1153.3 L984.7 1154.5 L985.2 1154.2 L985.8 1154 L986.3 1155.3 L986.8 1154.6 L987.3 1155.4 L987.9 1154.5 L988.4 1154.9 L988.9 1155.5 L989.5 1156.1 L990 1155.8 L990.6 1155.3 L991.1 1154 L991.7 1153.3 L992.2 1153.2 L992.8 1153.1 L993.3 1150.8 L995 1155.8 L995.6 1154.4 L996.1 1155.1 L996.7 1151.7 L997.2 1153.7 L997.7 1153.6 L998.2 1152.8 L998.7 1151.6 L999.2 1151.4 L999.7 1153.4 L1000.2 1151.3 L1000.7 1151.6 L1001.2 1151.2 L1001.7 1151.7 L1003.3 1158.3 L1005 1153.3 L1005.5 1154.9 L1006 1153.1 L1006.5 1153.2 L1007 1153.5 L1007.5 1154.5 L1008 1154.9 L1008.5 1153.7 L1009 1154.8 L1009.5 1155.6 L1010 1154.2 L1010.6 1153.6 L1011.1 1153 L1011.7 1152.8 L1012.2 1153.2 L1012.8 1154.9 L1013.3 1151.7 L1013.8 1152.4 L1014.4 1151.8 L1014.9 1151.5 L1015.4 1152.4 L1015.9 1152.3 L1016.4 1151.9 L1016.9 1151.6 L1017.4 1152.9 L1017.9 1153.3 L1018.5 1151.7 L1019 1154.2 L1019.5 1153.6 L1020 1152 L1020.5 1152 L1021 1152.8 L1021.5 1152.3 L1022 1153.2 L1022.5 1151.7 L1023 1151.8 L1023.5 1153.8 L1024 1155.8 L1024.5 1152.9 L1025 1152.5 L1026.7 1157.5 L1028.3 1151.7 L1028.8 1153.8 L1029.3 1153.1 L1029.8 1154 L1030.3 1152.7 L1030.8 1153.2 L1031.3 1153.7 L1031.8 1155.5 L1032.3 1155.3 L1032.8 1155.3 L1033.3 1155 L1033.9 1154.9 L1034.4 1157.4 L1034.9 1157.7 L1035.4 1157.3 L1035.9 1158.9 L1036.5 1158.2 L1037 1159 L1037.5 1158.3 L1038 1157.7 L1038.5 1158 L1039.1 1158.6 L1039.6 1157.8 L1040.1 1160.3 L1040.6 1156.3 L1041.1 1156 L1041.7 1155.8 L1042.8 1169.2 L1043.3 1155.8 L1043.9 1156.1 L1044.4 1156.4 L1045 1155.2 L1045.6 1154.7 L1046.1 1156.2 L1046.7 1155 L1047.2 1155.2 L1047.7 1158.6 L1048.2 1157.8 L1048.7 1158.7 L1049.2 1158.3 L1050.8 1165 L1051.4 1165.5 L1052 1166.4 L1052.5 1167.1 L1053.1 1170.8 L1053.7 1169.2 L1055.8 1162.5 L1056.4 1162.5 L1056.9 1162.6 L1057.4 1162 L1057.9 1161.2 L1058.4 1162.5 L1059 1161.3 L1059.5 1161.6 L1060 1160.8 L1060.6 1163.1 L1061.1 1162.3 L1061.7 1162.7 L1062.2 1163.4 L1062.8 1163.8 L1063.3 1163.3 L1063.9 1163.9 L1064.4 1164.4 L1065 1164.7 L1065.6 1166.2 L1066.1 1166.2 L1066.7 1166.7 L1067.2 1166.5 L1067.8 1167 L1068.3 1167.3 L1068.9 1167.5 L1069.4 1169 L1070 1167.5 L1070.5 1167.8 L1071 1168.4 L1071.5 1167 L1072 1167.5 L1072.5 1167.4 L1073 1167.5 L1073.5 1166.9 L1074 1166.5 L1074.5 1165.9 L1075 1165.8 L1075.5 1165.9 L1076 1167.2 L1076.5 1166.1 L1077 1166 L1077.5 1166.3 L1078 1166.2 L1078.5 1166.3 L1079 1166.6 L1079.5 1166.6 L1080 1166.7 L1080.5 1168.3 L1081 1166.9 L1081.5 1167.3 L1082 1167 L1082.5 1167.7 L1083 1168.9 L1083.5 1167.5 L1084 1167.9 L1084.5 1168 L1085 1168.3 L1085.8 1175 L1086.7 1167.5 L1087.2 1167.3 L1087.7 1167.2 L1088.2 1167.2 L1088.8 1167.2 L1089.3 1167.5 L1089.8 1167.9 L1090.3 1167.5 L1090.8 1167.5 L1091.4 1168.2 L1091.9 1169 L1092.5 1170 L1093 1169.6 L1093.5 1169.3 L1094 1168.7 L1094.5 1168.5 L1095 1167.5 L1095.5 1167.9 L1096 1167.2 L1096.5 1167.4 L1097.1 1167.1 L1097.6 1167.3 L1098.1 1167.8 L1098.6 1169.8 L1099.1 1168.4 L1099.6 1167.2 L1100.1 1167.3 L1100.6 1167.5 L1101.2 1166.9 L1101.7 1167.2 L1102.2 1167 L1102.7 1167.3 L1103.2 1167.1 L1103.7 1167.5 L1104.2 1167.6 L1104.7 1167.2 L1105.3 1167.5 L1105.8 1168.2 L1106.3 1167.5 L1106.8 1169.3 L1107.3 1167.8 L1107.8 1168 L1108.3 1168 L1109 1169.6 L1109.7 1170.8 L1110.2 1170.8 L1110.7 1169.1 L1111.2 1168.8 L1111.7 1167.2 L1112.2 1167 L1112.7 1166.9 L1113.2 1167.1 L1113.7 1167.4 L1114.2 1166.9 L1114.7 1167.5 L1115.2 1167.6 L1115.7 1167.9 L1116.2 1167.4 L1116.7 1167.2 L1117.2 1173.3 L1118 1167.2 L1118.5 1167.5 L1119 1167.2 L1119.5 1167.7 L1120 1167.1 L1120.5 1167.3 L1121 1167.5 L1121.5 1168.4 L1122 1167.3 L1122.5 1167.5 L1123.3 1171.7 L1124.2 1168 L1124.7 1167.8 L1125.2 1167.9 L1125.8 1168.3 L1126.3 1168 L1126.8 1168.4 L1127.3 1168.5 L1127.9 1168 L1128.4 1167.9 L1128.9 1168.2 L1129.5 1169.6 L1130 1168.3 L1130.5 1170.2 L1131 1168.9 L1131.5 1168.2 L1132.1 1168.4 L1132.6 1168.3 L1133.1 1168.2 L1133.6 1168.4 L1134.1 1168 L1134.6 1168.5 L1135.1 1168.4 L1135.6 1167.8 L1136.2 1168.5 L1136.7 1168 L1137.2 1174.2 L1138 1168 L1138.5 1167.9 L1139 1167.8 L1139.5 1167.6 L1140 1168 L1140.5 1167.9 L1141 1168.1 L1141.5 1167.6 L1142 1168.3 L1142.5 1167.7 L1143 1167.6 L1143.5 1167.2 L1144 1167.8 L1144.5 1167.6 L1145 1167.2 L1145.5 1167 L1146 1167.7 L1146.5 1167.3 L1147.1 1167.4 L1147.6 1168.3 L1148.1 1167.8 L1148.6 1167.8 L1149.1 1168.4 L1149.6 1167.8 L1150.1 1168.6 L1150.6 1167.8 L1151.2 1168.3 L1151.7 1168 L1152.2 1168.6 L1152.7 1168.1 L1153.2 1168.5 L1153.7 1167.9 L1154.2 1168.6 L1154.7 1168.2 L1155.2 1169.4 L1155.7 1168.7 L1156.2 1168.4 L1156.7 1168.3 L1157.2 1169.9 L1157.8 1170.3 L1158.3 1170.8 L1158.9 1170.1 L1159.4 1169.2 L1160 1168 L1160.5 1167.7 L1161 1168.1 L1161.5 1167.8 L1162 1168.3 L1162.5 1167.4 L1163 1167 L1163.5 1167.6 L1164 1167 L1164.5 1167.1 L1165 1166.7 L1165.6 1167 L1166.1 1165.4 L1166.7 1165 L1167.2 1166.5 L1167.7 1167.5 L1168.2 1168.1 L1168.7 1169.2 L1169.2 1170.9 L1169.7 1168.6 L1170.2 1167.9 L1170.7 1167.8 L1171.2 1167.8 L1171.7 1166.7 L1172.2 1167.6 L1172.7 1166.7 L1173.2 1166.5 L1173.7 1167.3 L1174.2 1166.6 L1174.7 1166.8 L1175.2 1166.1 L1175.7 1166.9 L1176.2 1165.8 L1176.7 1165.8 L1177.2 1166.9 L1177.7 1165.9 L1178.2 1166.6 L1178.7 1166.5 L1179.2 1166.5 L1179.7 1166.5 L1180.2 1166.9 L1180.7 1166.2 L1181.2 1166.9 L1181.7 1166.7 L1182.5 1172.5 L1184.2 1167.5 L1184.7 1167.8 L1185.2 1167.3 L1185.8 1167.2 L1186.3 1168 L1186.8 1168 L1187.3 1167.9 L1187.9 1167.5 L1188.4 1167.5 L1188.9 1167.1 L1189.5 1167.8 L1190 1167.2 L1190.5 1166.8 L1191 1167.3 L1191.5 1167.6 L1192 1166.9 L1192.5 1167.2 L1193 1167.8 L1193.5 1166.5 L1194 1166.3 L1194.5 1166.7 L1195 1166.3 L1195.5 1167.2 L1196 1166.7 L1196.5 1168 L1197 1165.9 L1197.5 1166.3 L1198 1165.7 L1198.5 1167 L1199 1165.8 L1199.5 1166.3 L1200 1165.5 L1200.7 1167.4 L1201.3 1168.3 L1201.8 1168 L1202.3 1166.6 L1202.8 1166.4 L1203.3 1165 L1203.9 1165.2 L1204.4 1164.8 L1204.9 1164.6 L1205.4 1164.2 L1205.9 1164.2 L1206.5 1163.7 L1207 1164.1 L1207.5 1163.3 L1208.1 1164.7 L1208.6 1165.7 L1209.2 1166.7 L1210.8 1160.8 L1212.5 1165.8 L1213 1165.8 L1213.6 1166 L1214.1 1166.7 L1214.6 1165.9 L1215.2 1166 L1215.7 1166.2 L1216.2 1165.5 L1216.7 1165.6 L1217.3 1165.4 L1217.8 1165.6 L1218.3 1165.5 L1218.9 1166.6 L1219.4 1166.7 L1219.9 1166.1 L1220.4 1165.8 L1220.9 1166.1 L1221.5 1166.6 L1222 1166.6 L1222.5 1166.7 L1223.1 1167.6 L1223.6 1168.3 L1224.2 1169.2 L1224.7 1168.4 L1225.2 1167.7 L1225.7 1168 L1226.2 1166.7 L1226.7 1165.8 L1227.2 1165.7 L1227.7 1166 L1228.2 1166.5 L1228.7 1165.9 L1229.2 1165.7 L1229.7 1165.1 L1230.2 1165.2 L1230.7 1165.6 L1231.2 1165.6 L1231.7 1165 L1232.2 1164.9 L1232.7 1163.7 L1233.2 1163.8 L1233.7 1161.8 L1234.2 1160.8 L1235.8 1165 L1236.4 1165.2 L1236.9 1165.5 L1237.4 1165 L1237.9 1166.5 L1238.4 1165.4 L1239 1165.6 L1239.5 1165.7 L1240 1165.8 L1240.6 1167.1 L1241.1 1169.1 L1241.7 1170 L1243.3 1165.8 L1243.8 1166.1 L1244.3 1165.9 L1244.8 1166.5 L1245.3 1165.2 L1245.8 1165.8 L1246.3 1166.3 L1246.8 1164.9 L1247.3 1166.2 L1247.8 1165.6 L1248.3 1165 L1249.7 1172.5 L1250.8 1165.8 L1251.3 1166.4 L1251.8 1166.2 L1252.3 1165.4 L1252.8 1165.7 L1253.3 1165.4 L1253.8 1166.6 L1254.3 1166 L1254.8 1165.5 L1255.3 1165.3 L1255.8 1165.5 L1256.4 1167.7 L1256.9 1168.7 L1257.5 1169.2 L1258.1 1167.8 L1258.6 1166.4 L1259.2 1165 L1259.7 1166 L1260.2 1164.7 L1260.7 1164.9 L1261.2 1164.9 L1261.7 1165.6 L1262.2 1164.6 L1262.7 1164.3 L1263.2 1164.3 L1263.7 1164.9 L1264.2 1164.2 L1264.7 1164.8 L1265.2 1164.3 L1265.7 1164.8 L1266.2 1165.9 L1266.8 1165.3 L1267.3 1166 L1267.8 1165.5 L1268.3 1165.5 L1268.9 1166.3 L1269.4 1165.8 L1269.9 1167.2 L1270.4 1166.5 L1270.9 1166.8 L1271.5 1167 L1272 1168 L1272.5 1167.5 L1273.7 1173.3 L1275 1167.5 L1275.5 1168.2 L1276 1169.1 L1276.6 1169.2 L1277.1 1169.7 L1277.6 1171.3 L1278.1 1171.5 L1278.6 1172.2 L1279.2 1172.5 L1280.8 1167.5 L1281.4 1167.6 L1281.9 1167.1 L1282.4 1166.9 L1282.9 1167.9 L1283.4 1167.8 L1284 1167.9 L1284.5 1166.8 L1285 1166.7 L1286.7 1172.5 L1288.3 1167.5 L1288.8 1167.2 L1289.3 1167.4 L1289.8 1167.3 L1290.3 1166.8 L1290.8 1166.3 L1291.3 1167.9 L1291.8 1166.8 L1292.3 1167.7 L1292.8 1169.4 L1293.3 1166.7 L1293.9 1167.1 L1294.4 1167.1 L1295 1168.6 L1295.6 1168.1 L1296.1 1165.8 L1296.7 1166.7 L1297.5 1170.8 L1298.7 1166.3 L1299.2 1166.1 L1299.8 1165.7 L1300.3 1170.2 L1300.9 1169.2 L1301.4 1170.4 L1302 1168 L1302.5 1165.8 L1303.1 1164 L1303.6 1164.2 L1304.2 1161.7 L1304.7 1163 L1305.2 1161.2 L1305.7 1163 L1306.2 1164.4 L1306.8 1161.9 L1307.3 1163.5 L1307.8 1161.8 L1308.3 1162.5 L1308.9 1163.2 L1309.4 1167.6 L1310 1164.9 L1310.6 1167.6 L1311.1 1166.4 L1311.7 1167.5 L1313.3 1160.8 L1313.8 1161.2 L1314.3 1162.5 L1314.8 1162.3 L1315.3 1160.8 L1315.8 1163.4 L1316.3 1163.7 L1316.8 1161.1 L1317.3 1160.6 L1317.8 1162.2 L1318.3 1161.3 L1318.9 1161.6 L1319.4 1161.5 L1319.9 1161.5 L1320.4 1161.9 L1320.9 1161.5 L1321.5 1163.3 L1322 1162.8 L1322.5 1162.5 L1323 1162.5 L1323.5 1161.1 L1324 1162.8 L1324.5 1159.8 L1325 1160 L1325.8 1170.8 L1326.7 1160 L1327.2 1160.7 L1327.7 1159.4 L1328.2 1158.9 L1328.8 1161.1 L1329.3 1157.7 L1329.8 1158.1 L1330.3 1159.3 L1330.8 1157.5 L1331.4 1162.5 L1331.9 1162.8 L1332.5 1161.7 L1333 1162.2 L1333.5 1161.1 L1334 1157.5 L1334.5 1156.7 L1335 1155.8 L1335.5 1156.8 L1336 1156.4 L1336.5 1156.3 L1337 1155.9 L1337.5 1157 L1338 1155.5 L1338.5 1157.2 L1339 1154 L1339.5 1161.3 L1340 1154.2 L1340.6 1155 L1341.1 1154.2 L1341.7 1155.1 L1342.2 1153.5 L1342.8 1155.5 L1343.3 1152.5 L1344.7 1160.8 L1345.8 1152.5 L1346.3 1152.8 L1346.8 1152.4 L1347.3 1151.5 L1347.8 1152.8 L1348.3 1151.7 L1348.8 1153.6 L1349.3 1154.2 L1349.8 1154.4 L1350.3 1155.4 L1350.8 1151.7 L1351.4 1155.1 L1351.9 1152.3 L1352.4 1153 L1352.9 1154.8 L1353.4 1154.4 L1354 1155.9 L1354.5 1153.6 L1355 1154.2 L1355.6 1154.3 L1356.1 1157.3 L1356.7 1156.6 L1357.2 1158.1 L1357.8 1156.6 L1358.3 1157.5 L1358.9 1159.5 L1359.4 1159.6 L1360 1158.3 L1360.6 1157.9 L1361.1 1157.2 L1361.7 1157.2 L1362.2 1158.5 L1362.8 1159 L1363.3 1157.5 L1364.2 1165.8 L1365.8 1156.7 L1366.4 1156.9 L1366.9 1158.6 L1367.5 1156.7 L1368.1 1156.8 L1368.6 1159.3 L1369.2 1157.5 L1369.7 1156.7 L1370.3 1159 L1370.8 1155.6 L1371.4 1155.9 L1371.9 1156.7 L1372.5 1154.2 L1373 1152.8 L1373.5 1152.6 L1374.1 1151.8 L1374.6 1153.1 L1375.1 1150.3 L1375.6 1149.7 L1376.1 1155.1 L1376.7 1149.2 L1377.2 1150.9 L1377.8 1150 L1378.3 1150.3 L1378.9 1151.1 L1379.4 1151.4 L1380 1152.5 L1380.5 1154.4 L1381 1154.6 L1381.5 1153.9 L1382 1158.1 L1382.5 1154.2 L1383.3 1163.3 L1385 1157.5 L1385.5 1160 L1386 1161.2 L1386.5 1159.9 L1387 1159.9 L1387.5 1160 L1388.1 1161.3 L1388.6 1160.3 L1389.2 1163.5 L1389.7 1161.6 L1390.3 1163.8 L1390.8 1162.5 L1392.2 1170 L1393.3 1164.2 L1393.9 1164.1 L1394.4 1165.9 L1394.9 1165.8 L1395.5 1164.1 L1396 1163 L1396.5 1162.9 L1397 1164.6 L1397.6 1164.9 L1398.1 1161.2 L1398.6 1163.9 L1399.2 1161.7 L1400.8 1166.7 L1401.3 1165.6 L1401.8 1168.5 L1402.3 1165.4 L1402.8 1165.8 L1403.3 1164.2 L1403.9 1163.6 L1404.4 1163.3 L1404.9 1163.9 L1405.4 1163.3 L1405.9 1163.7 L1406.5 1164 L1407 1163.4 L1407.5 1164.2 L1408 1165 L1408.5 1167.5 L1409 1166.4 L1409.5 1168 L1410 1168.3 L1410.8 1174.2 L1412 1166.7 L1413 1175 L1415 1167.5 L1418.3 1159.2 L1418.9 1159.2 L1419.4 1158.8 L1420 1161.1 L1420.6 1158.5 L1421.1 1163 L1421.7 1158.3 L1423 1166.7 L1424.2 1159.2 L1424.7 1162.3 L1425.3 1160 L1425.8 1158.1 L1426.4 1158.3 L1426.9 1155.3 L1427.5 1155 L1428.1 1157.1 L1428.6 1154.3 L1429.2 1152.1 L1429.7 1152 L1430.3 1149.9 L1430.8 1149.2 L1431.4 1150 L1431.9 1159.4 L1432.5 1153.3 L1434.2 1147.5 L1434.7 1147.7 L1435.2 1153.9 L1435.7 1151.1 L1436.2 1152.9 L1436.7 1151.7 L1438.3 1146.7 L1438.9 1146.4 L1439.4 1146.1 L1439.9 1146.7 L1440.4 1149.8 L1440.9 1149 L1441.5 1147.5 L1442 1145.3 L1442.5 1145.8 L1443 1145.2 L1443.5 1142.6 L1444 1142.5 L1444.5 1140.8 L1446.7 1146.7 L1450 1155.8 L1450.6 1156.9 L1451.1 1161.1 L1451.7 1157.1 L1452.2 1158.3 L1452.8 1155 L1453.3 1155.8 L1453.8 1159.5 L1454.3 1160.8 L1454.8 1157.8 L1455.3 1160.1 L1455.8 1160 L1458 1166.7 L1459.7 1160 L1460.2 1160.5 L1460.7 1160.4 L1461.2 1163.5 L1461.8 1160.4 L1462.3 1160.7 L1462.8 1159.9 L1463.3 1160.8 L1463.8 1159.4 L1464.3 1162.3 L1464.8 1157.2 L1465.3 1156.9 L1465.8 1155.8 L1466.4 1156.3 L1466.9 1158.7 L1467.5 1160.8 L1468.1 1158.2 L1468.6 1158.5 L1469.2 1160 L1470.8 1155.8 L1471.4 1154.7 L1471.9 1154.6 L1472.4 1159.5 L1472.9 1153.7 L1473.4 1153.6 L1474 1153.1 L1474.5 1153.1 L1475 1152.5 L1475.6 1152.1 L1476.1 1151.8 L1476.7 1154 L1477.2 1156.1 L1477.8 1151.7 L1478.3 1152.5 L1480 1157.5 L1482.5 1150.8 L1483.1 1152.6 L1483.6 1148 L1484.2 1146.7 L1484.7 1146 L1485.2 1148.9 L1485.7 1146.7 L1486.2 1145 L1487.5 1157.5 L1489.2 1148.3 L1489.7 1152.8 L1490.2 1149.9 L1490.7 1151 L1491.2 1153.5 L1491.7 1150.8 L1492.2 1149.8 L1492.8 1149.7 L1493.3 1149.2 L1495.8 1155.8 L1497.5 1150.8 L1498.1 1152.7 L1498.6 1153.1 L1499.2 1153.8 L1499.7 1156 L1500.3 1154.2 L1500.8 1155.8 L1501.4 1157 L1501.9 1157.3 L1502.5 1159.5 L1503.1 1159.7 L1503.6 1160.6 L1504.2 1159.2 L1504.7 1159.3 L1505.2 1160.1 L1505.7 1162.8 L1506.2 1160.1 L1506.8 1160.7 L1507.3 1159.2 L1507.8 1161.8 L1508.3 1160 L1509.7 1175 L1510.8 1162.5 L1511.4 1162.3 L1511.9 1164.1 L1512.5 1163.2 L1513.1 1164.3 L1513.6 1163.4 L1514.2 1164.2 L1515 1170 L1517.5 1158.3 L1518 1160.6 L1518.5 1161.6 L1519 1159.5 L1519.5 1159.6 L1520 1160.8 L1520.5 1160.9 L1521 1162 L1521.5 1159.8 L1522 1161 L1522.5 1160 L1523.3 1168.3 L1525 1160 L1525.5 1162.5 L1526 1161.4 L1526.5 1165.3 L1527 1161.6 L1527.5 1160.8 L1529.2 1169.2 L1530.8 1160 L1531.3 1163.1 L1531.8 1160.8 L1532.3 1162.5 L1532.8 1164.6 L1533.3 1164.2 L1533.9 1163.8 L1534.4 1166.9 L1535 1164.2 L1535.6 1165.4 L1536.1 1167.9 L1536.7 1165.8 L1537.2 1166.9 L1537.7 1167.4 L1538.2 1168 L1538.7 1167.9 L1539.2 1167.5 L1539.7 1167.3 L1540.2 1166 L1540.7 1165.8 L1541.2 1165.9 L1541.7 1165 L1543.3 1160.8 L1543.9 1162.8 L1544.4 1163.5 L1545 1161.5 L1545.6 1165.9 L1546.1 1163.4 L1546.7 1162.5 L1547.2 1163.1 L1547.7 1162.1 L1548.2 1162 L1548.7 1162.3 L1549.2 1158.3 L1549.7 1159.1 L1550.2 1156.8 L1550.7 1157.7 L1551.2 1158.4 L1551.8 1156.3 L1552.3 1158.6 L1552.8 1156.8 L1553.3 1154.2 L1553.8 1155.3 L1554.3 1153.5 L1554.8 1156.9 L1555.3 1153.3 L1555.8 1153.3 L1557.5 1159.2 L1558.1 1163.4 L1558.6 1161.3 L1559.2 1163.3 L1559.7 1163.1 L1560.2 1163.1 L1560.7 1163.3 L1561.2 1166.5 L1561.7 1164.2 L1562.2 1167.4 L1562.7 1166.7 L1563.2 1169.2 L1563.7 1169.2 L1564.2 1168.3 L1565.8 1156.7 L1566.4 1156.3 L1566.9 1155.6 L1567.5 1161.5 L1568.1 1158.8 L1568.6 1156.2 L1569.2 1155.8 L1571.7 1164.2 L1573.8 1172.5 L1575.8 1165.8 L1576.4 1172.7 L1576.9 1168 L1577.5 1170 L1579.2 1159.2 L1579.7 1159.6 L1580.2 1159.5 L1580.7 1159.6 L1581.2 1159.1 L1581.8 1157.8 L1582.3 1158 L1582.8 1160.7 L1583.3 1157.5 L1583.9 1158.2 L1584.4 1158.2 L1585 1159 L1585.6 1159.3 L1586.1 1157.2 L1586.7 1157.5 L1587.2 1156.6 L1587.7 1158.4 L1588.2 1157.4 L1588.8 1156.2 L1589.3 1157.1 L1589.8 1157.2 L1590.3 1156.3 L1590.8 1155.8 L1592.5 1160.8 L1593 1160.4 L1593.5 1160.4 L1594 1163.7 L1594.5 1161.1 L1595 1160.8 L1596.7 1155 L1597.2 1156.2 L1597.7 1158.5 L1598.2 1157.6 L1598.7 1154.8 L1599.2 1155.8 L1600.8 1165.8 L1602.8 1153.3 L1603.3 1154.6 L1603.8 1158.6 L1604.3 1156.4 L1604.8 1158.3 L1605.3 1160.7 L1605.8 1160.8 L1606.3 1161.2 L1606.8 1163.8 L1607.3 1167.1 L1607.8 1166.3 L1608.3 1164.2 L1608.9 1164.3 L1609.4 1164.8 L1610 1164.1 L1610.6 1164.8 L1611.1 1164.2 L1611.7 1164.2 L1612.2 1164.8 L1612.8 1170.2 L1613.3 1163.8 L1613.9 1163.8 L1614.4 1165.7 L1615 1163.3 L1615.5 1163.6 L1616 1166.3 L1616.5 1166.4 L1617 1169.2 L1617.5 1165.8 L1618.3 1172.5 L1619.7 1165 L1620.8 1175 L1621.4 1174.2 L1622 1175 L1623.3 1157.5 L1625.3 1170.8 L1627.5 1157.5 L1630 1164.2 L1632 1175 L1633.3 1163.3 L1633.9 1163.9 L1634.4 1164.3 L1635 1163.1 L1635.6 1162 L1636.1 1161.2 L1636.7 1160.8 L1637.2 1159.6 L1637.8 1161.8 L1638.3 1160.7 L1638.9 1160.4 L1639.4 1157.7 L1640 1157.5 L1640.6 1160.6 L1641.1 1156.8 L1641.7 1155.4 L1642.2 1158.2 L1642.8 1154.7 L1643.3 1155 L1643.8 1154.3 L1644.3 1156.4 L1644.8 1153.7 L1645.3 1154.4 L1645.8 1152.1 L1646.3 1152 L1646.9 1153.5 L1647.5 1154.2 L1648 1153.5 L1648.6 1154.5 L1649.2 1155 L1650.8 1162.5 L1652.5 1152.5 L1653 1153.5 L1653.5 1154.9 L1654 1152.1 L1654.5 1152.3 L1655 1152.5 L1655.5 1155.1 L1656 1153.7 L1656.5 1155.9 L1657 1157.7 L1657.5 1157.5 L1659.5 1172.5 L1660.8 1162.5 L1661.4 1162.5 L1661.9 1164.1 L1662.5 1162.7 L1663.1 1166.8 L1663.6 1167.8 L1664.2 1164.2 L1665.8 1168.3 L1666.7 1162.5 L1667.2 1162.4 L1667.7 1165 L1668.2 1163.9 L1668.7 1165.8 L1669.2 1164.2 L1669.7 1164.3 L1670.3 1163.8 L1670.8 1163.3 L1672.5 1169.2 L1673.1 1170.9 L1673.6 1165.8 L1674.2 1165 L1674.7 1166.3 L1675.2 1164.5 L1675.7 1163.2 L1676.2 1164.8 L1676.7 1162.5 L1677.2 1170 L1678 1160 L1678.5 1159 L1679 1159.4 L1679.6 1159.7 L1680.1 1160.5 L1680.6 1155.3 L1681.1 1155.4 L1681.7 1154.2 L1685 1145 L1685.6 1144.3 L1686.1 1144.1 L1686.7 1143.3 L1688.3 1147.5 L1688.9 1147 L1689.4 1144.7 L1690 1144.2 L1692.8 1151.7 L1694.2 1147.5 L1694.7 1147.7 L1695.3 1145.8 L1695.8 1146.7 L1696.4 1146.6 L1696.9 1144.9 L1697.5 1143.3 L1699.5 1134.2 L1700.8 1141.7 L1701.4 1142 L1701.9 1141.2 L1702.5 1139.2 L1704.2 1145 L1705.3 1138.3 L1707.5 1146.7 L1710 1157.5 L1712.5 1146.7 L1713.1 1146.3 L1713.6 1147.3 L1714.2 1146.7 L1715.8 1150.8 L1716.4 1150.4 L1716.9 1150.5 L1717.5 1148.3 L1720 1156.7 L1720.5 1159.7 L1721 1159.2 L1721.5 1159.8 L1722 1160.8 L1724.2 1154.2 L1724.7 1154.2 L1725.2 1152.1 L1725.7 1153.2 L1726.2 1152.7 L1726.7 1149.2 L1727.2 1149.4 L1727.7 1149.1 L1728.2 1150 L1728.7 1149.7 L1729.2 1150 L1729.7 1151.6 L1730.2 1152.7 L1730.7 1153 L1731.2 1153.2 L1731.7 1154.2 L1732.2 1155.3 L1732.7 1153.2 L1733.2 1153.3 L1733.7 1152.2 L1734.2 1151.7 L1736.3 1157.5 L1737.5 1150.8 L1738 1150.2 L1738.6 1148.2 L1739.1 1147.6 L1739.7 1146.7 L1740.8 1131.7 L1741.3 1130.6 L1741.8 1130.2 L1742.3 1128.4 L1742.8 1127.5 L1745 1137.5 L1745.5 1137.9 L1746 1138 L1746.5 1138.2 L1747 1138 L1747.5 1138.3 L1748 1138.9 L1748.5 1141.5 L1749 1138.6 L1749.5 1137.5 L1750 1137.5 L1750.8 1140.8 L1752.5 1130.8 L1755.3 1123.3 L1757.5 1130.8 L1760 1124.2 L1760.6 1126.3 L1761.1 1123.8 L1761.7 1122.5 L1762.2 1122.2 L1762.7 1123.5 L1763.2 1119.4 L1763.7 1119.2 L1765.8 1130.8 L1767.5 1123.3 L1768.1 1122.5 L1768.6 1122.8 L1769.2 1120 L1770.8 1113.3 L1772 1119.2 L1774.2 1100.8 L1776.2 1110.8 L1776.7 1110.4 L1777.2 1109 L1777.8 1108.7 L1778.3 1108.3 L1778.9 1107.8 L1779.4 1108.5 L1780 1105.8 L1780.6 1107.5 L1781.1 1110.5 L1781.7 1110 L1784.2 1097.5 L1785.8 1090.8 L1787.8 1104.2 L1790 1084.2 L1792.5 1091.7 L1793.3 1081.7 L1795 1065.8 L1795.6 1066.4 L1796.1 1066.3 L1796.7 1065.8 L1798 1093.3 L1799.7 1122.5 L1801.7 1103.3 L1803.3 1086.7 L1805 1071.7 L1806.3 1048.3 L1806.8 1047.7 L1807.3 1046.6 L1807.8 1046.2 L1808.3 1044.2 L1809.5 1031.7 L1810 1046.7 L1810.8 1016.7 L1812 962.5 L1812.8 964 L1815 915 L1816.5 860 L1818.2 810 L1820 780 L1821.5 783 L1822.5 770 L1825 745 L1826.8 702.5 L1827.2 682.5 L1827.8 676.2 L1829.2 660 L1830.7 605.8 L1832.2 549 L1835.1 600.7 L1835.8 547.5 L1837 503.8 L1838 460 L1839 440.8 L1839.7 408.9 L1840.7 367.2 L1841.8 339.4 L1842.5 326.9 L1844.7 326.9 L1845 333.9 L1846 311.7 L1846.9 290.8 L1848.1 270 L1848.5 250 L1849.4 212.5 L1850 187.5 L1850.2 178.8 L1851.4 177.5 L1851.8 186.2 L1852.5 167.5 L1853.1 165 L1855 162.5 L1856 152.5 L1856.9 141.9 L1860.6 141.9 L1861.5 131.2 L1864.4 129.4 L1866.2 116.2 L1867.5 112.5 L1868.2 107.5" stroke="#000" stroke-width="2.15"/>
</g>
<rect x="280.5" y="112.5" width="1595.0" height="1064.70" fill="none" stroke="#000" stroke-width="3.33" stroke-linejoin="miter"/>
<g stroke="#000" fill="none">
<path d="M406.40 1177.2v15.4" stroke-width="3.33"/>
<path d="M631.40 1177.2v15.4" stroke-width="3.33"/>
<path d="M856.40 1177.2v15.4" stroke-width="3.33"/>
<path d="M1081.40 1177.2v15.4" stroke-width="3.33"/>
<path d="M1306.40 1177.2v15.4" stroke-width="3.33"/>
<path d="M1531.40 1177.2v15.4" stroke-width="3.33"/>
<path d="M1756.40 1177.2v15.4" stroke-width="3.33"/>
<path d="M280.5 580.35h-14.8" stroke-width="3.33"/>
<path d="M280.5 200.36h-8.4" stroke-width="2.5"/>
<path d="M280.5 638.11h-8.4" stroke-width="2.5"/>
<path d="M280.5 702.68h-8.4" stroke-width="2.5"/>
<path d="M280.5 775.88h-8.4" stroke-width="2.5"/>
<path d="M280.5 860.39h-8.4" stroke-width="2.5"/>
<path d="M280.5 960.34h-8.4" stroke-width="2.5"/>
<path d="M280.5 1082.67h-8.4" stroke-width="2.5"/>
</g>
<text transform="translate(404.70 1268.80) rotate(-30) scale(1 1.025)" font-size="41.67" text-anchor="middle" y="14.6">11-26 18</text>
<text transform="translate(629.70 1268.80) rotate(-30) scale(1 1.025)" font-size="41.67" text-anchor="middle" y="14.6">11-26 20</text>
<text transform="translate(854.70 1268.80) rotate(-30) scale(1 1.025)" font-size="41.67" text-anchor="middle" y="14.6">11-26 22</text>
<text transform="translate(1079.70 1268.80) rotate(-30) scale(1 1.025)" font-size="41.67" text-anchor="middle" y="14.6">11-27 00</text>
<text transform="translate(1304.70 1268.80) rotate(-30) scale(1 1.025)" font-size="41.67" text-anchor="middle" y="14.6">11-27 02</text>
<text transform="translate(1529.70 1268.80) rotate(-30) scale(1 1.025)" font-size="41.67" text-anchor="middle" y="14.6">11-27 04</text>
<text transform="translate(1754.70 1268.80) rotate(-30) scale(1 1.025)" font-size="41.67" text-anchor="middle" y="14.6">11-27 06</text>
<text y="217.16" font-size="41.67"><tspan x="109.1">2</tspan><tspan x="143.6">×</tspan><tspan x="185.9">10</tspan><tspan x="239.3" dy="-16.5" font-size="29.17">8</tspan></text>
<text y="595.85" font-size="41.67"><tspan x="179.7">10</tspan><tspan x="232.1" dy="-16.5" font-size="29.17">8</tspan></text>
<text y="876.09" font-size="41.67"><tspan x="109.1">6</tspan><tspan x="143.6">×</tspan><tspan x="185.9">10</tspan><tspan x="239.3" dy="-16.5" font-size="29.17">7</tspan></text>
<text y="1098.37" font-size="41.67"><tspan x="109.1">4</tspan><tspan x="143.6">×</tspan><tspan x="185.9">10</tspan><tspan x="239.3" dy="-16.5" font-size="29.17">7</tspan></text>
<text transform="translate(1077.40 1387.10) scale(0.988 1.025)" font-size="41.67" text-anchor="middle">Time</text>
<text transform="translate(81.65 645.85) rotate(-90) scale(0.988 1.025)" font-size="41.67" text-anchor="middle">ADU</text>
<text transform="translate(1078.00 87.40)" font-size="50.00" text-anchor="middle">Peak field sums for UK00AP_20251126_165139_121587</text>
<rect x="917.1" y="132.9" width="320.9" height="138.1" rx="8.3" ry="8.3" fill="#fff" fill-opacity="0.8" stroke="#ccc" stroke-opacity="0.8" stroke-width="4"/>
<path d="M932.8 168H1018.1" stroke="#ff0000" stroke-width="2.2"/>
<path d="M932.8 231H1018.1" stroke="#000" stroke-width="2.2"/>
<text transform="translate(1050.00 183.40) scale(0.983 1.025)" font-size="41.67">Peak</text>
<text transform="translate(1050.40 246.00) scale(1 1.025)" font-size="41.67">Average</text>
</svg></body></html>
